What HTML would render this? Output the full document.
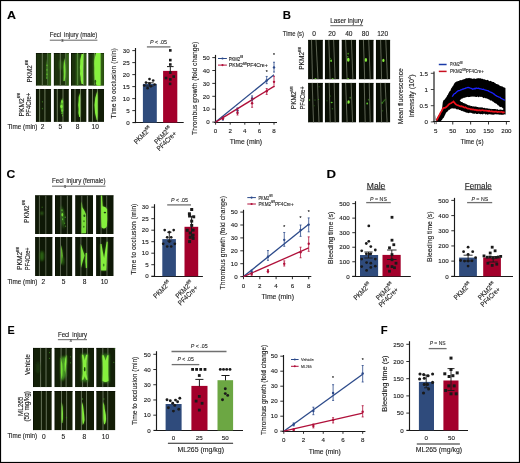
<!DOCTYPE html>
<html><head><meta charset="utf-8"><title>Figure</title>
<style>html,body{margin:0;padding:0;background:#fff;}body{width:520px;height:463px;overflow:hidden;font-family:"Liberation Sans",sans-serif;}svg{display:block;font-family:"Liberation Sans",sans-serif;}svg{will-change:transform;}text{stroke:#1a1a1a;stroke-width:0.12px;}</style>
</head><body>
<svg width="520" height="463" viewBox="0 0 520 463" ><defs><filter id="bl3" filterUnits="userSpaceOnUse" x="0" y="0" width="520" height="463"><feGaussianBlur stdDeviation="0.3"/></filter><filter id="bl5" filterUnits="userSpaceOnUse" x="0" y="0" width="520" height="463"><feGaussianBlur stdDeviation="0.45"/></filter><filter id="bl8" filterUnits="userSpaceOnUse" x="0" y="0" width="520" height="463"><feGaussianBlur stdDeviation="0.8"/></filter><filter id="bl12" filterUnits="userSpaceOnUse" x="0" y="0" width="520" height="463"><feGaussianBlur stdDeviation="1.3"/></filter><clipPath id="c1"><rect x="35.80" y="52.90" width="15.40" height="32.90"/></clipPath><clipPath id="c2"><rect x="53.70" y="52.90" width="15.20" height="32.90"/></clipPath><clipPath id="c3"><rect x="71.00" y="52.90" width="15.60" height="32.90"/></clipPath><clipPath id="c4"><rect x="88.30" y="52.90" width="15.80" height="32.90"/></clipPath><clipPath id="c5"><rect x="35.80" y="89.00" width="15.40" height="32.90"/></clipPath><clipPath id="c6"><rect x="53.70" y="89.00" width="15.20" height="32.90"/></clipPath><clipPath id="c7"><rect x="71.00" y="89.00" width="15.60" height="32.90"/></clipPath><clipPath id="c8"><rect x="88.30" y="89.00" width="15.80" height="32.90"/></clipPath><clipPath id="c9"><rect x="308.10" y="39.70" width="14.80" height="39.75"/></clipPath><clipPath id="c10"><rect x="324.80" y="39.70" width="14.60" height="39.75"/></clipPath><clipPath id="c11"><rect x="341.60" y="39.70" width="14.60" height="39.75"/></clipPath><clipPath id="c12"><rect x="358.80" y="39.70" width="14.90" height="39.75"/></clipPath><clipPath id="c13"><rect x="375.80" y="39.70" width="14.50" height="39.75"/></clipPath><clipPath id="c14"><rect x="308.10" y="82.80" width="14.80" height="39.75"/></clipPath><clipPath id="c15"><rect x="324.80" y="82.80" width="14.60" height="39.75"/></clipPath><clipPath id="c16"><rect x="341.60" y="82.80" width="14.60" height="39.75"/></clipPath><clipPath id="c17"><rect x="358.80" y="82.80" width="14.90" height="39.75"/></clipPath><clipPath id="c18"><rect x="375.80" y="82.80" width="14.50" height="39.75"/></clipPath><clipPath id="c19"><rect x="35.10" y="195.20" width="17.50" height="38.90"/></clipPath><clipPath id="c20"><rect x="55.00" y="195.20" width="17.40" height="38.90"/></clipPath><clipPath id="c21"><rect x="75.20" y="195.20" width="17.80" height="38.90"/></clipPath><clipPath id="c22"><rect x="96.10" y="195.20" width="17.60" height="38.90"/></clipPath><clipPath id="c23"><rect x="35.10" y="237.10" width="17.50" height="38.90"/></clipPath><clipPath id="c24"><rect x="55.00" y="237.10" width="17.40" height="38.90"/></clipPath><clipPath id="c25"><rect x="75.20" y="237.10" width="17.80" height="38.90"/></clipPath><clipPath id="c26"><rect x="96.10" y="237.10" width="17.60" height="38.90"/></clipPath><clipPath id="c27"><rect x="33.00" y="347.80" width="18.80" height="39.35"/></clipPath><clipPath id="c28"><rect x="54.40" y="347.80" width="18.30" height="39.35"/></clipPath><clipPath id="c29"><rect x="75.10" y="347.80" width="19.00" height="39.35"/></clipPath><clipPath id="c30"><rect x="96.30" y="347.80" width="19.10" height="39.35"/></clipPath><clipPath id="c31"><rect x="33.00" y="391.00" width="18.80" height="39.35"/></clipPath><clipPath id="c32"><rect x="54.40" y="391.00" width="18.30" height="39.35"/></clipPath><clipPath id="c33"><rect x="75.10" y="391.00" width="19.00" height="39.35"/></clipPath><clipPath id="c34"><rect x="96.30" y="391.00" width="19.10" height="39.35"/></clipPath></defs><rect width="520" height="463" fill="#fff"/><rect x="0.5" y="0.5" width="519" height="462" fill="none" stroke="#000" stroke-width="1.2"/>
<text x="6.90" y="19.30" font-size="11.6" font-weight="bold" fill="#000" textLength="9.00" lengthAdjust="spacingAndGlyphs">A</text>
<text x="282.80" y="18.90" font-size="11.6" font-weight="bold" fill="#000" textLength="8.20" lengthAdjust="spacingAndGlyphs">B</text>
<text x="6.50" y="178.10" font-size="11.6" font-weight="bold" fill="#000" textLength="8.80" lengthAdjust="spacingAndGlyphs">C</text>
<text x="326.40" y="178.00" font-size="11.6" font-weight="bold" fill="#000" textLength="9.50" lengthAdjust="spacingAndGlyphs">D</text>
<text x="7.40" y="333.90" font-size="11.6" font-weight="bold" fill="#000" textLength="7.20" lengthAdjust="spacingAndGlyphs">E</text>
<text x="380.70" y="333.80" font-size="11.6" font-weight="bold" fill="#000" textLength="6.90" lengthAdjust="spacingAndGlyphs">F</text>
<g clip-path="url(#c1)">
<rect x="35.80" y="52.90" width="15.40" height="32.90" fill="#1c310d"/>
<rect x="35.80" y="52.90" width="0.80" height="32.90" fill="#050a02" opacity="0.6"/>
<rect x="35.80" y="52.90" width="15.40" height="1.00" fill="#0a1204" opacity="0.85"/>
<polygon points="41.80,52.90 42.80,52.90 42.80,85.80 41.80,85.80" fill="#6c7a5c" opacity="1.0"/>
<polygon points="47.20,52.90 48.20,52.90 48.20,85.80 47.20,85.80" fill="#58704a" opacity="1.0"/>
<rect transform="translate(35.80,52.90)" x="12.5" y="0" width="3" height="33" fill="#3f7e1e" opacity="0.8" filter="url(#bl8)"/>
<path transform="translate(35.80,52.90)" d="M10.9 5 Q11.8 14 11.6 26 L10.6 26 Q10.4 14 10.9 5 Z" fill="#4a9a26" opacity="0.45" filter="url(#bl12)"/><path transform="translate(35.80,52.90)" d="M10.9 5 Q11.8 14 11.6 26 L10.6 26 Q10.4 14 10.9 5 Z" fill="#4a9a26" opacity="0.8" filter="url(#bl5)"/>
<ellipse transform="translate(35.80,52.90)" cx="11.2" cy="12.5" rx="0.5" ry="0.8" fill="#6ad030" opacity="1.0" filter="url(#bl5)"/>
<ellipse transform="translate(35.80,52.90)" cx="11.2" cy="17" rx="0.5" ry="0.8" fill="#6ad030" opacity="1.0" filter="url(#bl5)"/>
<ellipse transform="translate(35.80,52.90)" cx="11.2" cy="21.5" rx="0.5" ry="0.8" fill="#6ad030" opacity="1.0" filter="url(#bl5)"/>
<ellipse transform="translate(35.80,52.90)" cx="11.0" cy="25" rx="0.5" ry="0.7" fill="#5ac02c" opacity="1.0" filter="url(#bl5)"/>
</g>
<g clip-path="url(#c2)">
<rect x="53.70" y="52.90" width="15.20" height="32.90" fill="#1c310d"/>
<rect x="53.70" y="52.90" width="0.80" height="32.90" fill="#050a02" opacity="0.6"/>
<rect x="53.70" y="52.90" width="15.20" height="1.00" fill="#0a1204" opacity="0.85"/>
<polygon points="59.80,52.90 60.80,52.90 60.80,85.80 59.80,85.80" fill="#6c7a5c" opacity="1.0"/>
<polygon points="65.30,52.90 66.30,52.90 66.30,85.80 65.30,85.80" fill="#6c7a5c" opacity="1.0"/>
<rect transform="translate(53.70,52.90)" x="12.6" y="0" width="3" height="33" fill="#3f7e1e" opacity="0.8" filter="url(#bl8)"/>
<ellipse transform="translate(53.70,52.90)" cx="6.8" cy="12" rx="0.8" ry="5" fill="#4a9a26" opacity="0.8" filter="url(#bl8)"/>
<path transform="translate(53.70,52.90)" d="M10.6 5 Q11.8 12 11.8 18 Q11.8 24 11.0 28 L9.8 28 Q10.2 20 9.8 14 Q10 9 10.6 5 Z" fill="#76e036" opacity="0.45" filter="url(#bl12)"/><path transform="translate(53.70,52.90)" d="M10.6 5 Q11.8 12 11.8 18 Q11.8 24 11.0 28 L9.8 28 Q10.2 20 9.8 14 Q10 9 10.6 5 Z" fill="#76e036" opacity="1.0" filter="url(#bl5)"/>
</g>
<g clip-path="url(#c3)">
<rect x="71.00" y="52.90" width="15.60" height="32.90" fill="#1c310d"/>
<rect x="71.00" y="52.90" width="0.80" height="32.90" fill="#050a02" opacity="0.6"/>
<rect x="71.00" y="52.90" width="15.60" height="1.00" fill="#0a1204" opacity="0.85"/>
<polygon points="77.00,52.90 78.00,52.90 78.00,85.80 77.00,85.80" fill="#6c7a5c" opacity="1.0"/>
<polygon points="83.10,52.90 84.10,52.90 84.10,85.80 83.10,85.80" fill="#6c7a5c" opacity="1.0"/>
<rect transform="translate(71.00,52.90)" x="13.2" y="0" width="2.5" height="33" fill="#3f7e1e" opacity="0.7" filter="url(#bl8)"/>
<rect transform="translate(71.00,52.90)" x="5.6" y="0" width="2.0" height="33" fill="#3e8a20" opacity="0.9" filter="url(#bl8)"/>
<path transform="translate(71.00,52.90)" d="M10.6 1 L12.4 1 Q12.2 10 12.0 18 Q12.0 26 12.2 31 L10.6 31 Q9.4 27 9.6 24 Q8.6 21 9.2 18 Q8.6 14 9.2 11 Q8.8 7 10.6 1 Z" fill="#84f03c" opacity="0.45" filter="url(#bl12)"/><path transform="translate(71.00,52.90)" d="M10.6 1 L12.4 1 Q12.2 10 12.0 18 Q12.0 26 12.2 31 L10.6 31 Q9.4 27 9.6 24 Q8.6 21 9.2 18 Q8.6 14 9.2 11 Q8.8 7 10.6 1 Z" fill="#84f03c" opacity="1.0" filter="url(#bl5)"/>
</g>
<g clip-path="url(#c4)">
<rect x="88.30" y="52.90" width="15.80" height="32.90" fill="#1c310d"/>
<rect x="88.30" y="52.90" width="0.80" height="32.90" fill="#050a02" opacity="0.6"/>
<rect x="88.30" y="52.90" width="15.80" height="1.00" fill="#0a1204" opacity="0.85"/>
<polygon points="94.00,52.90 95.00,52.90 95.00,85.80 94.00,85.80" fill="#6c7a5c" opacity="1.0"/>
<polygon points="99.60,52.90 100.60,52.90 100.60,85.80 99.60,85.80" fill="#6c7a5c" opacity="1.0"/>
<rect transform="translate(88.30,52.90)" x="12.6" y="0" width="3" height="33" fill="#3f7e1e" opacity="0.6" filter="url(#bl8)"/>
<rect transform="translate(88.30,52.90)" x="5.0" y="0" width="2" height="33" fill="#3a7a1c" opacity="0.7" filter="url(#bl8)"/>
<path transform="translate(88.30,52.90)" d="M7.7 0 L12.2 0 L12.2 33 L8.6 33 Q7.6 31 7.2 29 Q6.2 27 6.4 24 Q6.0 20 6.2 15 Q5.8 11 6.0 8 Q6.6 4 7.7 0 Z" fill="#86f23c" opacity="0.45" filter="url(#bl12)"/><path transform="translate(88.30,52.90)" d="M7.7 0 L12.2 0 L12.2 33 L8.6 33 Q7.6 31 7.2 29 Q6.2 27 6.4 24 Q6.0 20 6.2 15 Q5.8 11 6.0 8 Q6.6 4 7.7 0 Z" fill="#86f23c" opacity="1.0" filter="url(#bl5)"/>
<ellipse transform="translate(88.30,52.90)" cx="7.0" cy="28.5" rx="0.9" ry="1.6" fill="#2a5a14" opacity="1.0" filter="url(#bl5)"/>
</g>
<g clip-path="url(#c5)">
<rect x="35.80" y="89.00" width="15.40" height="32.90" fill="#121d07"/>
<rect x="35.80" y="89.00" width="0.80" height="32.90" fill="#050a02" opacity="0.6"/>
<rect x="35.80" y="89.00" width="15.40" height="1.00" fill="#070c03" opacity="0.85"/>
<polygon points="39.10,89.00 40.10,89.00 40.10,121.90 39.10,121.90" fill="#6c7a5c" opacity="1.0"/>
<polygon points="44.40,89.00 45.40,89.00 45.40,121.90 44.40,121.90" fill="#6c7a5c" opacity="1.0"/>
<ellipse transform="translate(35.80,89.00)" cx="6.6" cy="12.8" rx="0.6" ry="0.6" fill="#4a9a26" opacity="0.8" filter="url(#bl5)"/>
<ellipse transform="translate(35.80,89.00)" cx="6.6" cy="19.6" rx="0.6" ry="0.8" fill="#3e8a20" opacity="0.7" filter="url(#bl5)"/>
</g>
<g clip-path="url(#c6)">
<rect x="53.70" y="89.00" width="15.20" height="32.90" fill="#121d07"/>
<rect x="53.70" y="89.00" width="0.80" height="32.90" fill="#050a02" opacity="0.6"/>
<rect x="53.70" y="89.00" width="15.20" height="1.00" fill="#070c03" opacity="0.85"/>
<polygon points="56.80,89.00 57.80,89.00 57.80,121.90 56.80,121.90" fill="#6c7a5c" opacity="1.0"/>
<polygon points="62.50,89.00 63.50,89.00 63.50,121.90 62.50,121.90" fill="#6c7a5c" opacity="1.0"/>
<path transform="translate(53.70,89.00)" d="M8.6 9 Q9.8 13 9.6 17 Q9.8 21 8.8 26 Q7 22 6.6 17 Q7 12 8.6 9 Z" fill="#5ab82c" opacity="0.45" filter="url(#bl12)"/><path transform="translate(53.70,89.00)" d="M8.6 9 Q9.8 13 9.6 17 Q9.8 21 8.8 26 Q7 22 6.6 17 Q7 12 8.6 9 Z" fill="#5ab82c" opacity="0.9" filter="url(#bl5)"/>
<ellipse transform="translate(53.70,89.00)" cx="8.4" cy="12.5" rx="1.0" ry="1.6" fill="#76e036" opacity="1.0" filter="url(#bl5)"/>
<ellipse transform="translate(53.70,89.00)" cx="7.8" cy="17.5" rx="1.2" ry="1.8" fill="#80ec3a" opacity="1.0" filter="url(#bl5)"/>
<ellipse transform="translate(53.70,89.00)" cx="8.6" cy="21.5" rx="0.9" ry="1.2" fill="#6ad030" opacity="1.0" filter="url(#bl5)"/>
<ellipse transform="translate(53.70,89.00)" cx="8.2" cy="24.5" rx="0.6" ry="0.8" fill="#5ac02c" opacity="1.0" filter="url(#bl5)"/>
<ellipse transform="translate(53.70,89.00)" cx="8.8" cy="26.7" rx="0.5" ry="0.8" fill="#5ac02c" opacity="1.0" filter="url(#bl5)"/>
</g>
<g clip-path="url(#c7)">
<rect x="71.00" y="89.00" width="15.60" height="32.90" fill="#121d07"/>
<rect x="71.00" y="89.00" width="0.80" height="32.90" fill="#050a02" opacity="0.6"/>
<rect x="71.00" y="89.00" width="15.60" height="1.00" fill="#070c03" opacity="0.85"/>
<polygon points="74.50,89.00 75.50,89.00 75.50,121.90 74.50,121.90" fill="#6c7a5c" opacity="1.0"/>
<polygon points="80.00,89.00 81.00,89.00 81.00,121.90 80.00,121.90" fill="#6c7a5c" opacity="1.0"/>
<path transform="translate(71.00,89.00)" d="M8.6 4 Q9.4 10 9.0 16 Q9.2 22 9.0 28 L8.2 28 Q7.0 24 7.6 20 Q6.8 16 7.6 12 Q7.4 8 8.6 4 Z" fill="#80ec3a" opacity="0.45" filter="url(#bl12)"/><path transform="translate(71.00,89.00)" d="M8.6 4 Q9.4 10 9.0 16 Q9.2 22 9.0 28 L8.2 28 Q7.0 24 7.6 20 Q6.8 16 7.6 12 Q7.4 8 8.6 4 Z" fill="#80ec3a" opacity="1.0" filter="url(#bl5)"/>
</g>
<g clip-path="url(#c8)">
<rect x="88.30" y="89.00" width="15.80" height="32.90" fill="#121d07"/>
<rect x="88.30" y="89.00" width="0.80" height="32.90" fill="#050a02" opacity="0.6"/>
<rect x="88.30" y="89.00" width="15.80" height="1.00" fill="#070c03" opacity="0.85"/>
<polygon points="92.00,89.00 93.00,89.00 93.00,121.90 92.00,121.90" fill="#6c7a5c" opacity="1.0"/>
<polygon points="96.90,89.00 97.90,89.00 97.90,121.90 96.90,121.90" fill="#6c7a5c" opacity="1.0"/>
<path transform="translate(88.30,89.00)" d="M9.0 2 Q9.4 10 9.2 16 Q9.4 24 9.0 31 L8.4 31 Q6.2 24 6.2 16 Q6.6 8 9.0 2 Z" fill="#86f03c" opacity="0.45" filter="url(#bl12)"/><path transform="translate(88.30,89.00)" d="M9.0 2 Q9.4 10 9.2 16 Q9.4 24 9.0 31 L8.4 31 Q6.2 24 6.2 16 Q6.6 8 9.0 2 Z" fill="#86f03c" opacity="1.0" filter="url(#bl5)"/>
</g>
<g clip-path="url(#c9)">
<rect x="308.10" y="39.70" width="14.80" height="39.75" fill="#090e04"/>
<rect x="308.10" y="39.70" width="0.80" height="39.75" fill="#050a02" opacity="0.6"/>
<rect x="308.10" y="39.70" width="14.80" height="1.00" fill="#0a1204" opacity="0.85"/>
<polygon points="311.00,39.70 312.00,39.70 313.00,79.45 312.00,79.45" fill="#5e6454" opacity="1.0"/>
<polygon points="315.50,39.70 316.50,39.70 318.50,79.45 317.50,79.45" fill="#5e6454" opacity="1.0"/>
<ellipse transform="translate(308.10,39.70)" cx="7.4" cy="39" rx="1.0" ry="0.6" fill="#5ab02c" opacity="1.0" filter="url(#bl5)"/>
</g>
<g clip-path="url(#c10)">
<rect x="324.80" y="39.70" width="14.60" height="39.75" fill="#090e04"/>
<rect x="324.80" y="39.70" width="0.80" height="39.75" fill="#050a02" opacity="0.6"/>
<rect x="324.80" y="39.70" width="14.60" height="1.00" fill="#0a1204" opacity="0.85"/>
<polygon points="328.30,39.70 329.30,39.70 330.60,79.45 329.60,79.45" fill="#5e6454" opacity="1.0"/>
<polygon points="333.10,39.70 334.10,39.70 335.60,79.45 334.60,79.45" fill="#5e6454" opacity="1.0"/>
<ellipse transform="translate(324.80,39.70)" cx="6.3" cy="21" rx="0.9" ry="1.2" fill="#6ad030" opacity="1.0" filter="url(#bl5)"/>
<ellipse transform="translate(324.80,39.70)" cx="5.8" cy="18.6" rx="0.4" ry="0.6" fill="#3a8a20" opacity="1.0" filter="url(#bl5)"/>
<ellipse transform="translate(324.80,39.70)" cx="7.8" cy="39" rx="1" ry="0.6" fill="#5ab02c" opacity="1.0" filter="url(#bl5)"/>
</g>
<g clip-path="url(#c11)">
<rect x="341.60" y="39.70" width="14.60" height="39.75" fill="#090e04"/>
<rect x="341.60" y="39.70" width="0.80" height="39.75" fill="#050a02" opacity="0.6"/>
<rect x="341.60" y="39.70" width="14.60" height="1.00" fill="#0a1204" opacity="0.85"/>
<polygon points="345.10,39.70 346.10,39.70 347.60,79.45 346.60,79.45" fill="#5e6454" opacity="1.0"/>
<polygon points="350.90,39.70 351.90,39.70 353.40,79.45 352.40,79.45" fill="#5e6454" opacity="1.0"/>
<ellipse transform="translate(341.60,39.70)" cx="6.7" cy="20.0" rx="1.3" ry="2.0" fill="#84f03a" opacity="1.0" filter="url(#bl5)"/>
<ellipse transform="translate(341.60,39.70)" cx="6.5" cy="14" rx="0.6" ry="0.9" fill="#5ac02c" opacity="1.0" filter="url(#bl5)"/>
<ellipse transform="translate(341.60,39.70)" cx="6.2" cy="17" rx="0.5" ry="0.7" fill="#5ac02c" opacity="1.0" filter="url(#bl5)"/>
<ellipse transform="translate(341.60,39.70)" cx="6.5" cy="39" rx="1" ry="0.6" fill="#5ab02c" opacity="1.0" filter="url(#bl5)"/>
</g>
<g clip-path="url(#c12)">
<rect x="358.80" y="39.70" width="14.90" height="39.75" fill="#090e04"/>
<rect x="358.80" y="39.70" width="0.80" height="39.75" fill="#050a02" opacity="0.6"/>
<rect x="358.80" y="39.70" width="14.90" height="1.00" fill="#0a1204" opacity="0.85"/>
<polygon points="362.90,39.70 363.90,39.70 365.20,79.45 364.20,79.45" fill="#5e6454" opacity="1.0"/>
<polygon points="368.20,39.70 369.20,39.70 370.70,79.45 369.70,79.45" fill="#5e6454" opacity="1.0"/>
<ellipse transform="translate(358.80,39.70)" cx="7.1" cy="20.2" rx="1.2" ry="1.9" fill="#86f03a" opacity="1.0" filter="url(#bl5)"/>
</g>
<g clip-path="url(#c13)">
<rect x="375.80" y="39.70" width="14.50" height="39.75" fill="#090e04"/>
<rect x="375.80" y="39.70" width="0.80" height="39.75" fill="#050a02" opacity="0.6"/>
<rect x="375.80" y="39.70" width="14.50" height="1.00" fill="#0a1204" opacity="0.85"/>
<polygon points="380.10,39.70 381.10,39.70 382.10,79.45 381.10,79.45" fill="#5e6454" opacity="1.0"/>
<polygon points="385.30,39.70 386.30,39.70 387.90,79.45 386.90,79.45" fill="#5e6454" opacity="1.0"/>
<ellipse transform="translate(375.80,39.70)" cx="7.6" cy="20.7" rx="1.1" ry="1.6" fill="#86f03a" opacity="1.0" filter="url(#bl5)"/>
</g>
<g clip-path="url(#c14)">
<rect x="308.10" y="82.80" width="14.80" height="39.75" fill="#090e04"/>
<rect x="308.10" y="82.80" width="0.80" height="39.75" fill="#050a02" opacity="0.6"/>
<rect x="308.10" y="82.80" width="14.80" height="1.00" fill="#0a1204" opacity="0.85"/>
<polygon points="311.70,82.80 312.70,82.80 314.00,122.55 313.00,122.55" fill="#5e6454" opacity="1.0"/>
<polygon points="317.00,82.80 318.00,82.80 319.50,122.55 318.50,122.55" fill="#5e6454" opacity="1.0"/>
<ellipse transform="translate(308.10,82.80)" cx="1.4" cy="17.2" rx="0.7" ry="1.0" fill="#4aa028" opacity="1.0" filter="url(#bl5)"/>
<ellipse transform="translate(308.10,82.80)" cx="6.9" cy="17.2" rx="0.5" ry="0.6" fill="#3a8a20" opacity="1.0" filter="url(#bl5)"/>
<ellipse transform="translate(308.10,82.80)" cx="10.4" cy="16.7" rx="0.5" ry="0.6" fill="#4aa028" opacity="1.0" filter="url(#bl5)"/>
<ellipse transform="translate(308.10,82.80)" cx="6" cy="23" rx="0.4" ry="0.5" fill="#3a8a20" opacity="1.0" filter="url(#bl5)"/>
<ellipse transform="translate(308.10,82.80)" cx="11" cy="4" rx="0.4" ry="0.5" fill="#3a8a20" opacity="1.0" filter="url(#bl5)"/>
</g>
<g clip-path="url(#c15)">
<rect x="324.80" y="82.80" width="14.60" height="39.75" fill="#090e04"/>
<rect x="324.80" y="82.80" width="0.80" height="39.75" fill="#050a02" opacity="0.6"/>
<rect x="324.80" y="82.80" width="14.60" height="1.00" fill="#0a1204" opacity="0.85"/>
<polygon points="328.70,82.80 329.70,82.80 330.70,122.55 329.70,122.55" fill="#5e6454" opacity="1.0"/>
<polygon points="333.70,82.80 334.70,82.80 335.70,122.55 334.70,122.55" fill="#5e6454" opacity="1.0"/>
<ellipse transform="translate(324.80,82.80)" cx="6.9" cy="19.7" rx="1.0" ry="0.7" fill="#5ac02c" opacity="1.0" filter="url(#bl5)"/>
<ellipse transform="translate(324.80,82.80)" cx="5.4" cy="13.2" rx="0.5" ry="0.6" fill="#3a8a20" opacity="1.0" filter="url(#bl5)"/>
<ellipse transform="translate(324.80,82.80)" cx="2.2" cy="18" rx="0.4" ry="0.5" fill="#3a8a20" opacity="1.0" filter="url(#bl5)"/>
<ellipse transform="translate(324.80,82.80)" cx="7.5" cy="26" rx="0.5" ry="0.8" fill="#2e7a18" opacity="1.0" filter="url(#bl5)"/>
</g>
<g clip-path="url(#c16)">
<rect x="341.60" y="82.80" width="14.60" height="39.75" fill="#090e04"/>
<rect x="341.60" y="82.80" width="0.80" height="39.75" fill="#050a02" opacity="0.6"/>
<rect x="341.60" y="82.80" width="14.60" height="1.00" fill="#0a1204" opacity="0.85"/>
<polygon points="345.10,82.80 346.10,82.80 347.60,122.55 346.60,122.55" fill="#5e6454" opacity="1.0"/>
<polygon points="350.60,82.80 351.60,82.80 353.10,122.55 352.10,122.55" fill="#5e6454" opacity="1.0"/>
<ellipse transform="translate(341.60,82.80)" cx="7.0" cy="19.2" rx="1.2" ry="1.7" fill="#86f03a" opacity="1.0" filter="url(#bl5)"/>
<ellipse transform="translate(341.60,82.80)" cx="8.5" cy="15" rx="0.5" ry="1.0" fill="#4aa028" opacity="1.0" filter="url(#bl5)"/>
<ellipse transform="translate(341.60,82.80)" cx="5.3" cy="20.5" rx="0.5" ry="0.7" fill="#4aa028" opacity="1.0" filter="url(#bl5)"/>
</g>
<g clip-path="url(#c17)">
<rect x="358.80" y="82.80" width="14.90" height="39.75" fill="#090e04"/>
<rect x="358.80" y="82.80" width="0.80" height="39.75" fill="#050a02" opacity="0.6"/>
<rect x="358.80" y="82.80" width="14.90" height="1.00" fill="#0a1204" opacity="0.85"/>
<polygon points="363.70,82.80 364.70,82.80 365.70,122.55 364.70,122.55" fill="#5e6454" opacity="1.0"/>
<polygon points="368.70,82.80 369.70,82.80 370.70,122.55 369.70,122.55" fill="#5e6454" opacity="1.0"/>
<ellipse transform="translate(358.80,82.80)" cx="8.4" cy="20.7" rx="0.9" ry="0.9" fill="#5ac02c" opacity="1.0" filter="url(#bl5)"/>
<ellipse transform="translate(358.80,82.80)" cx="9.5" cy="17" rx="0.4" ry="1.0" fill="#3a8a20" opacity="1.0" filter="url(#bl5)"/>
</g>
<g clip-path="url(#c18)">
<rect x="375.80" y="82.80" width="14.50" height="39.75" fill="#090e04"/>
<rect x="375.80" y="82.80" width="0.80" height="39.75" fill="#050a02" opacity="0.6"/>
<rect x="375.80" y="82.80" width="14.50" height="1.00" fill="#0a1204" opacity="0.85"/>
<polygon points="380.10,82.80 381.10,82.80 382.10,122.55 381.10,122.55" fill="#5e6454" opacity="1.0"/>
<polygon points="384.60,82.80 385.60,82.80 387.60,122.55 386.60,122.55" fill="#5e6454" opacity="1.0"/>
<ellipse transform="translate(375.80,82.80)" cx="6.3" cy="20.2" rx="0.7" ry="0.8" fill="#4aa028" opacity="1.0" filter="url(#bl5)"/>
<path transform="translate(375.80,82.80)" d="M6 20 L9.5 16 L9.8 16.6 L6.4 20.8 Z" fill="#3a8a20" opacity="0.45" filter="url(#bl12)"/><path transform="translate(375.80,82.80)" d="M6 20 L9.5 16 L9.8 16.6 L6.4 20.8 Z" fill="#3a8a20" opacity="0.8" filter="url(#bl5)"/>
<ellipse transform="translate(375.80,82.80)" cx="7" cy="28" rx="0.4" ry="0.6" fill="#3a8a20" opacity="1.0" filter="url(#bl5)"/>
</g>
<g clip-path="url(#c19)">
<rect x="35.10" y="195.20" width="17.50" height="38.90" fill="#0e1806"/>
<rect x="35.10" y="195.20" width="0.80" height="38.90" fill="#050a02" opacity="0.6"/>
<rect x="35.10" y="195.20" width="17.50" height="1.00" fill="#0a1204" opacity="0.85"/>
<polygon points="38.90,195.20 39.90,195.20 39.90,234.10 38.90,234.10" fill="#58624e" opacity="1.0"/>
<polygon points="45.30,195.20 46.30,195.20 46.30,234.10 45.30,234.10" fill="#58624e" opacity="1.0"/>
<ellipse transform="translate(35.10,195.20)" cx="6.7" cy="18" rx="1.0" ry="1.3" fill="#4aa028" opacity="1.0" filter="url(#bl8)"/>
<ellipse transform="translate(35.10,195.20)" cx="7" cy="12" rx="0.5" ry="0.8" fill="#2e6a16" opacity="1.0" filter="url(#bl5)"/>
</g>
<g clip-path="url(#c20)">
<rect x="55.00" y="195.20" width="17.40" height="38.90" fill="#0e1806"/>
<rect x="55.00" y="195.20" width="0.80" height="38.90" fill="#050a02" opacity="0.6"/>
<rect x="55.00" y="195.20" width="17.40" height="1.00" fill="#0a1204" opacity="0.85"/>
<polygon points="60.40,195.20 61.40,195.20 61.40,234.10 60.40,234.10" fill="#58624e" opacity="1.0"/>
<polygon points="66.90,195.20 67.90,195.20 67.90,234.10 66.90,234.10" fill="#58624e" opacity="1.0"/>
<path transform="translate(55.00,195.20)" d="M6.2 10 Q8.8 15 9.4 21 Q9.6 28 8.6 34 Q6.6 28 6.2 20 Z" fill="#3e8a20" opacity="0.9" filter="url(#bl8)"/>
<ellipse transform="translate(55.00,195.20)" cx="7.3" cy="19.5" rx="0.9" ry="1.8" fill="#76e036" opacity="1.0" filter="url(#bl5)"/>
<ellipse transform="translate(55.00,195.20)" cx="7.0" cy="15" rx="0.6" ry="0.9" fill="#5ac030" opacity="1.0" filter="url(#bl5)"/>
<ellipse transform="translate(55.00,195.20)" cx="7.6" cy="24" rx="0.6" ry="1.0" fill="#5ac030" opacity="1.0" filter="url(#bl5)"/>
<ellipse transform="translate(55.00,195.20)" cx="10.2" cy="22" rx="0.6" ry="0.8" fill="#4aa028" opacity="1.0" filter="url(#bl5)"/>
<ellipse transform="translate(55.00,195.20)" cx="9.6" cy="28" rx="0.6" ry="0.8" fill="#3e8a20" opacity="1.0" filter="url(#bl5)"/>
<ellipse transform="translate(55.00,195.20)" cx="10.6" cy="31" rx="0.5" ry="0.7" fill="#3e8a20" opacity="1.0" filter="url(#bl5)"/>
</g>
<g clip-path="url(#c21)">
<rect x="75.20" y="195.20" width="17.80" height="38.90" fill="#0e1806"/>
<rect x="75.20" y="195.20" width="0.80" height="38.90" fill="#050a02" opacity="0.6"/>
<rect x="75.20" y="195.20" width="17.80" height="1.00" fill="#0a1204" opacity="0.85"/>
<polygon points="81.30,195.20 82.30,195.20 82.30,234.10 81.30,234.10" fill="#58624e" opacity="1.0"/>
<polygon points="86.90,195.20 87.90,195.20 87.90,234.10 86.90,234.10" fill="#58624e" opacity="1.0"/>
<path transform="translate(75.20,195.20)" d="M6.4 6 Q7.0 9 7.2 12 Q9.2 15 10.8 19 Q11.2 26 10.8 38 L6.2 38 Q6.6 30 6.2 20 Z" fill="#7ae03a" opacity="0.45" filter="url(#bl12)"/><path transform="translate(75.20,195.20)" d="M6.4 6 Q7.0 9 7.2 12 Q9.2 15 10.8 19 Q11.2 26 10.8 38 L6.2 38 Q6.6 30 6.2 20 Z" fill="#7ae03a" opacity="1.0" filter="url(#bl5)"/>
<ellipse transform="translate(75.20,195.20)" cx="9.2" cy="20.5" rx="1.0" ry="1.3" fill="#2a5a14" opacity="1.0" filter="url(#bl5)"/>
<ellipse transform="translate(75.20,195.20)" cx="8.8" cy="26" rx="0.8" ry="1.0" fill="#3a7a1c" opacity="1.0" filter="url(#bl5)"/>
<ellipse transform="translate(75.20,195.20)" cx="8.6" cy="31.5" rx="0.8" ry="1.0" fill="#3a7a1c" opacity="1.0" filter="url(#bl5)"/>
</g>
<g clip-path="url(#c22)">
<rect x="96.10" y="195.20" width="17.60" height="38.90" fill="#0e1806"/>
<rect x="96.10" y="195.20" width="0.80" height="38.90" fill="#050a02" opacity="0.6"/>
<rect x="96.10" y="195.20" width="17.60" height="1.00" fill="#0a1204" opacity="0.85"/>
<polygon points="100.60,195.20 101.60,195.20 101.60,234.10 100.60,234.10" fill="#58624e" opacity="1.0"/>
<polygon points="106.20,195.20 107.20,195.20 107.20,234.10 106.20,234.10" fill="#58624e" opacity="1.0"/>
<path transform="translate(96.10,195.20)" d="M5.0 0 L6.0 0 Q6.2 6 6.6 11 Q10 11.5 11 14 Q11.4 24 10.8 31 Q8.4 35 5.4 32 Q4.8 22 5.0 11 Z" fill="#86f03c" opacity="0.45" filter="url(#bl12)"/><path transform="translate(96.10,195.20)" d="M5.0 0 L6.0 0 Q6.2 6 6.6 11 Q10 11.5 11 14 Q11.4 24 10.8 31 Q8.4 35 5.4 32 Q4.8 22 5.0 11 Z" fill="#86f03c" opacity="1.0" filter="url(#bl5)"/>
<ellipse transform="translate(96.10,195.20)" cx="8.8" cy="17.4" rx="1.2" ry="0.8" fill="#1a3a0c" opacity="1.0" filter="url(#bl5)"/>
</g>
<g clip-path="url(#c23)">
<rect x="35.10" y="237.10" width="17.50" height="38.90" fill="#0e1806"/>
<rect x="35.10" y="237.10" width="0.80" height="38.90" fill="#050a02" opacity="0.6"/>
<rect x="35.10" y="237.10" width="17.50" height="1.00" fill="#0a1204" opacity="0.85"/>
<polygon points="38.90,237.10 39.90,237.10 39.90,276.00 38.90,276.00" fill="#58624e" opacity="1.0"/>
<polygon points="45.30,237.10 46.30,237.10 46.30,276.00 45.30,276.00" fill="#58624e" opacity="1.0"/>
<ellipse transform="translate(35.10,237.10)" cx="6.8" cy="19" rx="2.2" ry="5" fill="#2e6a14" opacity="0.9" filter="url(#bl12)"/>
</g>
<g clip-path="url(#c24)">
<rect x="55.00" y="237.10" width="17.40" height="38.90" fill="#0e1806"/>
<rect x="55.00" y="237.10" width="0.80" height="38.90" fill="#050a02" opacity="0.6"/>
<rect x="55.00" y="237.10" width="17.40" height="1.00" fill="#0a1204" opacity="0.85"/>
<polygon points="60.00,237.10 61.00,237.10 61.00,276.00 60.00,276.00" fill="#58624e" opacity="1.0"/>
<polygon points="66.30,237.10 67.30,237.10 67.30,276.00 66.30,276.00" fill="#58624e" opacity="1.0"/>
<path transform="translate(55.00,237.10)" d="M6.2 8 Q7.8 14 7.6 20 Q7.4 24 6.4 28 Z" fill="#7ae03a" opacity="0.45" filter="url(#bl12)"/><path transform="translate(55.00,237.10)" d="M6.2 8 Q7.8 14 7.6 20 Q7.4 24 6.4 28 Z" fill="#7ae03a" opacity="1.0" filter="url(#bl5)"/>
<ellipse transform="translate(55.00,237.10)" cx="7.8" cy="24" rx="1.2" ry="4" fill="#2e6a14" opacity="0.9" filter="url(#bl8)"/>
</g>
<g clip-path="url(#c25)">
<rect x="75.20" y="237.10" width="17.80" height="38.90" fill="#0e1806"/>
<rect x="75.20" y="237.10" width="0.80" height="38.90" fill="#050a02" opacity="0.6"/>
<rect x="75.20" y="237.10" width="17.80" height="1.00" fill="#0a1204" opacity="0.85"/>
<polygon points="80.40,237.10 81.40,237.10 81.40,276.00 80.40,276.00" fill="#58624e" opacity="1.0"/>
<polygon points="86.30,237.10 87.30,237.10 87.30,276.00 86.30,276.00" fill="#58624e" opacity="1.0"/>
<path transform="translate(75.20,237.10)" d="M5.6 7 Q7.5 13 9.4 18.5 Q7.5 24 5.8 31 Z" fill="#7ae03a" opacity="0.45" filter="url(#bl12)"/><path transform="translate(75.20,237.10)" d="M5.6 7 Q7.5 13 9.4 18.5 Q7.5 24 5.8 31 Z" fill="#7ae03a" opacity="1.0" filter="url(#bl5)"/>
<path transform="translate(75.20,237.10)" d="M10.4 16 L11.8 16 L11.8 31 L10.6 31 Q9.8 24 10.4 16 Z" fill="#7ae03a" opacity="0.45" filter="url(#bl12)"/><path transform="translate(75.20,237.10)" d="M10.4 16 L11.8 16 L11.8 31 L10.6 31 Q9.8 24 10.4 16 Z" fill="#7ae03a" opacity="1.0" filter="url(#bl5)"/>
</g>
<g clip-path="url(#c26)">
<rect x="96.10" y="237.10" width="17.60" height="38.90" fill="#0e1806"/>
<rect x="96.10" y="237.10" width="0.80" height="38.90" fill="#050a02" opacity="0.6"/>
<rect x="96.10" y="237.10" width="17.60" height="1.00" fill="#0a1204" opacity="0.85"/>
<polygon points="100.20,237.10 101.20,237.10 101.20,276.00 100.20,276.00" fill="#58624e" opacity="1.0"/>
<polygon points="106.50,237.10 107.50,237.10 107.50,276.00 106.50,276.00" fill="#58624e" opacity="1.0"/>
<path transform="translate(96.10,237.10)" d="M4.4 7 L5.4 7 Q6.6 15 8.0 21 Q9.0 14 10.6 4.7 L11.6 4.7 Q11.0 16 10.6 24 Q10.4 29 10.2 33.5 L5.0 33.5 Q4.8 28 4.8 22 Q4.4 14 4.4 7 Z" fill="#84ee3c" opacity="0.45" filter="url(#bl12)"/><path transform="translate(96.10,237.10)" d="M4.4 7 L5.4 7 Q6.6 15 8.0 21 Q9.0 14 10.6 4.7 L11.6 4.7 Q11.0 16 10.6 24 Q10.4 29 10.2 33.5 L5.0 33.5 Q4.8 28 4.8 22 Q4.4 14 4.4 7 Z" fill="#84ee3c" opacity="1.0" filter="url(#bl5)"/>
<ellipse transform="translate(96.10,237.10)" cx="7.6" cy="28" rx="0.8" ry="1.5" fill="#3a8a20" opacity="1.0" filter="url(#bl5)"/>
</g>
<g clip-path="url(#c27)">
<rect x="33.00" y="347.80" width="18.80" height="39.35" fill="#132008"/>
<rect x="33.00" y="347.80" width="0.80" height="39.35" fill="#050a02" opacity="0.6"/>
<rect x="33.00" y="347.80" width="18.80" height="1.00" fill="#0a1204" opacity="0.85"/>
<polygon points="40.10,347.80 41.10,347.80 41.10,387.15 40.10,387.15" fill="#66725a" opacity="1.0"/>
<polygon points="45.50,347.80 46.50,347.80 46.50,387.15 45.50,387.15" fill="#66725a" opacity="1.0"/>
<ellipse transform="translate(33.00,347.80)" cx="16.5" cy="4.8" rx="0.5" ry="0.6" fill="#3a8a20" opacity="1.0" filter="url(#bl5)"/>
<ellipse transform="translate(33.00,347.80)" cx="16.4" cy="10.5" rx="0.5" ry="0.6" fill="#3a8a20" opacity="1.0" filter="url(#bl5)"/>
<ellipse transform="translate(33.00,347.80)" cx="5" cy="20" rx="2" ry="6" fill="#1e3a0e" opacity="0.8" filter="url(#bl12)"/>
</g>
<g clip-path="url(#c28)">
<rect x="54.40" y="347.80" width="18.30" height="39.35" fill="#132008"/>
<rect x="54.40" y="347.80" width="0.80" height="39.35" fill="#050a02" opacity="0.6"/>
<rect x="54.40" y="347.80" width="18.30" height="1.00" fill="#0a1204" opacity="0.85"/>
<polygon points="60.60,347.80 61.60,347.80 61.60,387.15 60.60,387.15" fill="#66725a" opacity="1.0"/>
<polygon points="65.60,347.80 66.60,347.80 66.60,387.15 65.60,387.15" fill="#66725a" opacity="1.0"/>
<path transform="translate(54.40,347.80)" d="M6.6 9 Q8.6 8 9.4 10 Q10.8 8 12.2 7.5 L12.2 16 Q11.4 22 11.8 28 Q10 31 8.4 33 Q7 33 6.6 32 Z" fill="#4aa028" opacity="0.85" filter="url(#bl8)"/>
<path transform="translate(54.40,347.80)" d="M6.4 10 Q8.4 16 8.2 22 Q8.2 28 7.2 32 Q6.2 26 6.4 18 Z" fill="#76e036" opacity="0.45" filter="url(#bl12)"/><path transform="translate(54.40,347.80)" d="M6.4 10 Q8.4 16 8.2 22 Q8.2 28 7.2 32 Q6.2 26 6.4 18 Z" fill="#76e036" opacity="1.0" filter="url(#bl5)"/>
<path transform="translate(54.40,347.80)" d="M12.0 7 Q12.2 14 11.4 20 Q10.8 24 11.2 27 Q9.8 22 10.2 16 Q10.8 10 12.0 7 Z" fill="#80ec3a" opacity="0.45" filter="url(#bl12)"/><path transform="translate(54.40,347.80)" d="M12.0 7 Q12.2 14 11.4 20 Q10.8 24 11.2 27 Q9.8 22 10.2 16 Q10.8 10 12.0 7 Z" fill="#80ec3a" opacity="1.0" filter="url(#bl5)"/>
<ellipse transform="translate(54.40,347.80)" cx="16" cy="15" rx="0.5" ry="0.6" fill="#3a8a20" opacity="1.0" filter="url(#bl5)"/>
<ellipse transform="translate(54.40,347.80)" cx="16" cy="9" rx="0.5" ry="0.6" fill="#3a8a20" opacity="1.0" filter="url(#bl5)"/>
</g>
<g clip-path="url(#c29)">
<rect x="75.10" y="347.80" width="19.00" height="39.35" fill="#132008"/>
<rect x="75.10" y="347.80" width="0.80" height="39.35" fill="#050a02" opacity="0.6"/>
<rect x="75.10" y="347.80" width="19.00" height="1.00" fill="#0a1204" opacity="0.85"/>
<polygon points="82.10,347.80 83.10,347.80 83.10,387.15 82.10,387.15" fill="#66725a" opacity="1.0"/>
<polygon points="86.90,347.80 87.90,347.80 87.90,387.15 86.90,387.15" fill="#66725a" opacity="1.0"/>
<rect transform="translate(75.10,347.80)" x="6.0" y="6" width="7.4" height="28" fill="#3a8a20" opacity="0.7" filter="url(#bl12)"/>
<path transform="translate(75.10,347.80)" d="M6.8 7 L8.2 7 Q9.4 11 9.6 12.5 Q9.9 11 11.0 7 L12.4 7 Q11.6 12 11.4 16 Q11.4 22 11.4 26 Q11.8 29 12.4 32 L11.0 32 Q10 29.5 9.6 28.5 Q9.2 29.5 8.2 32 L6.8 32 Q7.4 29 7.8 26 Q7.8 22 7.8 16 Q7.6 12 6.8 7 Z" fill="#86f03c" opacity="0.45" filter="url(#bl12)"/><path transform="translate(75.10,347.80)" d="M6.8 7 L8.2 7 Q9.4 11 9.6 12.5 Q9.9 11 11.0 7 L12.4 7 Q11.6 12 11.4 16 Q11.4 22 11.4 26 Q11.8 29 12.4 32 L11.0 32 Q10 29.5 9.6 28.5 Q9.2 29.5 8.2 32 L6.8 32 Q7.4 29 7.8 26 Q7.8 22 7.8 16 Q7.6 12 6.8 7 Z" fill="#86f03c" opacity="1.0" filter="url(#bl5)"/>
<ellipse transform="translate(75.10,347.80)" cx="9.6" cy="21.4" rx="0.8" ry="2.2" fill="#1e4a10" opacity="1.0" filter="url(#bl5)"/>
</g>
<g clip-path="url(#c30)">
<rect x="96.30" y="347.80" width="19.10" height="39.35" fill="#132008"/>
<rect x="96.30" y="347.80" width="0.80" height="39.35" fill="#050a02" opacity="0.6"/>
<rect x="96.30" y="347.80" width="19.10" height="1.00" fill="#0a1204" opacity="0.85"/>
<polygon points="102.30,347.80 103.30,347.80 103.30,387.15 102.30,387.15" fill="#66725a" opacity="1.0"/>
<polygon points="107.40,347.80 108.40,347.80 108.40,387.15 107.40,387.15" fill="#66725a" opacity="1.0"/>
<rect transform="translate(96.30,347.80)" x="5.6" y="6" width="7.6" height="29" fill="#3a8a20" opacity="0.6" filter="url(#bl12)"/>
<path transform="translate(96.30,347.80)" d="M6.0 7.5 L7.4 7.5 Q8.8 11 9.2 13 Q9.8 11 11.0 7.5 L12.2 7.5 Q11.8 14 11.9 20 Q11.8 28 12.2 33 Q9.2 35.5 6.2 33 Q6.6 26 6.6 20 Q6.6 14 6.0 7.5 Z" fill="#86f03c" opacity="0.45" filter="url(#bl12)"/><path transform="translate(96.30,347.80)" d="M6.0 7.5 L7.4 7.5 Q8.8 11 9.2 13 Q9.8 11 11.0 7.5 L12.2 7.5 Q11.8 14 11.9 20 Q11.8 28 12.2 33 Q9.2 35.5 6.2 33 Q6.6 26 6.6 20 Q6.6 14 6.0 7.5 Z" fill="#86f03c" opacity="1.0" filter="url(#bl5)"/>
<ellipse transform="translate(96.30,347.80)" cx="18" cy="1" rx="0.5" ry="0.6" fill="#3a8a20" opacity="1.0" filter="url(#bl5)"/>
<ellipse transform="translate(96.30,347.80)" cx="17.5" cy="14.5" rx="0.5" ry="0.6" fill="#3a8a20" opacity="1.0" filter="url(#bl5)"/>
</g>
<g clip-path="url(#c31)">
<rect x="33.00" y="391.00" width="18.80" height="39.35" fill="#131d06"/>
<rect x="33.00" y="391.00" width="0.80" height="39.35" fill="#050a02" opacity="0.6"/>
<rect x="33.00" y="391.00" width="18.80" height="1.00" fill="#0a1204" opacity="0.85"/>
<polygon points="40.90,391.00 41.90,391.00 41.90,430.35 40.90,430.35" fill="#66725a" opacity="1.0"/>
<polygon points="45.80,391.00 46.80,391.00 46.80,430.35 45.80,430.35" fill="#66725a" opacity="1.0"/>
</g>
<g clip-path="url(#c32)">
<rect x="54.40" y="391.00" width="18.30" height="39.35" fill="#131d06"/>
<rect x="54.40" y="391.00" width="0.80" height="39.35" fill="#050a02" opacity="0.6"/>
<rect x="54.40" y="391.00" width="18.30" height="1.00" fill="#0a1204" opacity="0.85"/>
<polygon points="61.00,391.00 62.00,391.00 62.00,430.35 61.00,430.35" fill="#66725a" opacity="1.0"/>
<polygon points="66.10,391.00 67.10,391.00 67.10,430.35 66.10,430.35" fill="#66725a" opacity="1.0"/>
<path transform="translate(54.40,391.00)" d="M7.4 11 Q8.6 16 8.6 22 Q8.8 28 8.0 32 L7.4 32 Q7.0 26 7.2 20 Z" fill="#7ae03a" opacity="0.45" filter="url(#bl12)"/><path transform="translate(54.40,391.00)" d="M7.4 11 Q8.6 16 8.6 22 Q8.8 28 8.0 32 L7.4 32 Q7.0 26 7.2 20 Z" fill="#7ae03a" opacity="1.0" filter="url(#bl5)"/>
<ellipse transform="translate(54.40,391.00)" cx="12.1" cy="26.8" rx="0.6" ry="0.8" fill="#4aa028" opacity="1.0" filter="url(#bl5)"/>
</g>
<g clip-path="url(#c33)">
<rect x="75.10" y="391.00" width="19.00" height="39.35" fill="#131d06"/>
<rect x="75.10" y="391.00" width="0.80" height="39.35" fill="#050a02" opacity="0.6"/>
<rect x="75.10" y="391.00" width="19.00" height="1.00" fill="#0a1204" opacity="0.85"/>
<polygon points="80.90,391.00 81.90,391.00 81.90,430.35 80.90,430.35" fill="#66725a" opacity="1.0"/>
<polygon points="86.00,391.00 87.00,391.00 87.00,430.35 86.00,430.35" fill="#66725a" opacity="1.0"/>
<path transform="translate(75.10,391.00)" d="M7.0 11 Q8.2 14 8.4 18 Q9.2 24 9.4 29 Q9 33 7.6 34 Q6.8 28 7.0 22 Q6.8 16 7.0 11 Z" fill="#84ee3c" opacity="0.45" filter="url(#bl12)"/><path transform="translate(75.10,391.00)" d="M7.0 11 Q8.2 14 8.4 18 Q9.2 24 9.4 29 Q9 33 7.6 34 Q6.8 28 7.0 22 Q6.8 16 7.0 11 Z" fill="#84ee3c" opacity="1.0" filter="url(#bl5)"/>
<ellipse transform="translate(75.10,391.00)" cx="7.5" cy="8" rx="0.5" ry="0.8" fill="#4aa028" opacity="1.0" filter="url(#bl5)"/>
</g>
<g clip-path="url(#c34)">
<rect x="96.30" y="391.00" width="19.10" height="39.35" fill="#131d06"/>
<rect x="96.30" y="391.00" width="0.80" height="39.35" fill="#050a02" opacity="0.6"/>
<rect x="96.30" y="391.00" width="19.10" height="1.00" fill="#0a1204" opacity="0.85"/>
<polygon points="102.50,391.00 103.50,391.00 103.50,430.35 102.50,430.35" fill="#66725a" opacity="1.0"/>
<polygon points="107.20,391.00 108.20,391.00 108.20,430.35 107.20,430.35" fill="#66725a" opacity="1.0"/>
<path transform="translate(96.30,391.00)" d="M7.0 11 Q8.4 14 8.4 18 Q9.8 24 9.8 28 Q9.4 33 7.8 33.5 Q6.8 28 7.0 22 Q6.8 16 7.0 11 Z" fill="#84ee3c" opacity="0.45" filter="url(#bl12)"/><path transform="translate(96.30,391.00)" d="M7.0 11 Q8.4 14 8.4 18 Q9.8 24 9.8 28 Q9.4 33 7.8 33.5 Q6.8 28 7.0 22 Q6.8 16 7.0 11 Z" fill="#84ee3c" opacity="1.0" filter="url(#bl5)"/>
<ellipse transform="translate(96.30,391.00)" cx="7.6" cy="8" rx="0.5" ry="0.8" fill="#4aa028" opacity="1.0" filter="url(#bl5)"/>
</g>
<text x="49.80" y="37.20" font-size="6.7" textLength="47.60" lengthAdjust="spacingAndGlyphs" fill="#222">Fecl<tspan font-size="4.4" dy="4.8">3</tspan><tspan dy="-4.8" dx="0.7">injury (male)</tspan></text>
<line x1="49.80" y1="40.20" x2="97.40" y2="40.20" stroke="#555" stroke-width="0.9"/>
<text x="31.70" y="82.60" font-size="6.5" textLength="22.50" lengthAdjust="spacingAndGlyphs" fill="#222" transform="rotate(-90 31.70 82.60)">PKM2<tspan font-size="3.9" dy="-3.7">fl/fl</tspan></text>
<text x="24.20" y="116.40" font-size="6.5" textLength="23.40" lengthAdjust="spacingAndGlyphs" fill="#222" transform="rotate(-90 24.20 116.40)">PKM2<tspan font-size="3.9" dy="-3.7">fl/fl</tspan></text>
<text x="31.20" y="116.60" font-size="6.5" textLength="23.80" lengthAdjust="spacingAndGlyphs" fill="#222" transform="rotate(-90 31.20 116.60)">PF4Cre+</text>
<text x="7.40" y="129.30" font-size="6.9" textLength="30.10" lengthAdjust="spacingAndGlyphs" fill="#222">Time (min)</text>
<text x="42.70" y="129.40" font-size="6.6" text-anchor="middle" fill="#222">2</text>
<text x="60.30" y="129.40" font-size="6.6" text-anchor="middle" fill="#222">5</text>
<text x="77.60" y="129.40" font-size="6.6" text-anchor="middle" fill="#222">8</text>
<text x="95.20" y="129.40" font-size="6.6" text-anchor="middle" fill="#222">10</text>
<text x="330.3" y="23.4" font-size="6.7" textLength="32.8" lengthAdjust="spacingAndGlyphs" fill="#222">Laser injury</text>
<line x1="330.30" y1="25.70" x2="363.10" y2="25.70" stroke="#555" stroke-width="0.9"/>
<text x="282.80" y="36.00" font-size="6.9" textLength="21.20" lengthAdjust="spacingAndGlyphs" fill="#222">Time (s)</text>
<text x="314.20" y="36.10" font-size="6.6" text-anchor="middle" fill="#222">0</text>
<text x="331.90" y="36.10" font-size="6.6" text-anchor="middle" fill="#222">20</text>
<text x="348.80" y="36.10" font-size="6.6" text-anchor="middle" fill="#222">40</text>
<text x="365.40" y="36.10" font-size="6.6" text-anchor="middle" fill="#222">80</text>
<text x="382.70" y="36.10" font-size="6.6" text-anchor="middle" fill="#222">120</text>
<text x="304.30" y="69.80" font-size="6.5" textLength="22.90" lengthAdjust="spacingAndGlyphs" fill="#222" transform="rotate(-90 304.30 69.80)">PKM2<tspan font-size="3.9" dy="-3.7">fl/fl</tspan></text>
<text x="296.30" y="109.20" font-size="6.5" textLength="22.70" lengthAdjust="spacingAndGlyphs" fill="#222" transform="rotate(-90 296.30 109.20)">PKM2<tspan font-size="3.9" dy="-3.7">fl/fl</tspan></text>
<text x="305.00" y="109.60" font-size="6.5" textLength="23.30" lengthAdjust="spacingAndGlyphs" fill="#222" transform="rotate(-90 305.00 109.60)">PF4Cre+</text>
<text x="52.00" y="183.40" font-size="6.7" textLength="53.50" lengthAdjust="spacingAndGlyphs" fill="#222">Fecl<tspan font-size="4.4" dy="4.8">3</tspan><tspan dy="-4.8" dx="0.7">injury (female)</tspan></text>
<line x1="52.00" y1="186.20" x2="105.50" y2="186.20" stroke="#555" stroke-width="0.9"/>
<text x="29.10" y="222.90" font-size="6.5" textLength="22.60" lengthAdjust="spacingAndGlyphs" fill="#222" transform="rotate(-90 29.10 222.90)">PKM2<tspan font-size="3.9" dy="-3.7">fl/fl</tspan></text>
<text x="22.30" y="269.90" font-size="6.5" textLength="23.00" lengthAdjust="spacingAndGlyphs" fill="#222" transform="rotate(-90 22.30 269.90)">PKM2<tspan font-size="3.9" dy="-3.7">fl/fl</tspan></text>
<text x="29.70" y="270.30" font-size="6.5" textLength="23.00" lengthAdjust="spacingAndGlyphs" fill="#222" transform="rotate(-90 29.70 270.30)">PF4Cre+</text>
<text x="7.40" y="283.90" font-size="6.9" textLength="30.10" lengthAdjust="spacingAndGlyphs" fill="#222">Time (min)</text>
<text x="43.30" y="284.00" font-size="6.6" text-anchor="middle" fill="#222">2</text>
<text x="63.50" y="284.00" font-size="6.6" text-anchor="middle" fill="#222">5</text>
<text x="84.60" y="284.00" font-size="6.6" text-anchor="middle" fill="#222">8</text>
<text x="104.30" y="284.00" font-size="6.6" text-anchor="middle" fill="#222">10</text>
<text x="57.90" y="336.70" font-size="6.7" textLength="29.10" lengthAdjust="spacingAndGlyphs" fill="#222">Fecl<tspan font-size="4.4" dy="4.8">3</tspan><tspan dy="-4.8" dx="0.7">injury</tspan></text>
<line x1="57.90" y1="339.70" x2="87.00" y2="339.70" stroke="#555" stroke-width="0.9"/>
<text x="29.90" y="374.90" font-size="6.5" textLength="20.70" lengthAdjust="spacingAndGlyphs" fill="#222" transform="rotate(-90 29.90 374.90)">Vehicle</text>
<text x="22.80" y="416.00" font-size="6.5" textLength="19.40" lengthAdjust="spacingAndGlyphs" fill="#222" transform="rotate(-90 22.80 416.00)">ML265</text>
<text x="29.20" y="421.60" font-size="6.5" textLength="30.60" lengthAdjust="spacingAndGlyphs" fill="#222" transform="rotate(-90 29.20 421.60)">(50 mg/kg)</text>
<text x="7.40" y="438.40" font-size="6.9" textLength="29.80" lengthAdjust="spacingAndGlyphs" fill="#222">Time (min)</text>
<text x="43.80" y="438.50" font-size="6.6" text-anchor="middle" fill="#222">0</text>
<text x="63.30" y="438.50" font-size="6.6" text-anchor="middle" fill="#222">5</text>
<text x="84.40" y="438.50" font-size="6.6" text-anchor="middle" fill="#222">8</text>
<text x="105.50" y="438.50" font-size="6.6" text-anchor="middle" fill="#222">10</text>
<line x1="135.50" y1="48.00" x2="135.50" y2="123.10" stroke="#1a1a1a" stroke-width="1.15"/>
<line x1="132.30" y1="122.60" x2="135.50" y2="122.60" stroke="#1a1a1a" stroke-width="0.9"/>
<text x="129.60" y="124.80" font-size="6.2" text-anchor="end" fill="#222">0</text>
<line x1="132.30" y1="110.60" x2="135.50" y2="110.60" stroke="#1a1a1a" stroke-width="0.9"/>
<text x="129.60" y="112.80" font-size="6.2" text-anchor="end" fill="#222">5</text>
<line x1="132.30" y1="98.60" x2="135.50" y2="98.60" stroke="#1a1a1a" stroke-width="0.9"/>
<text x="129.60" y="100.80" font-size="6.2" text-anchor="end" fill="#222">10</text>
<line x1="132.30" y1="86.60" x2="135.50" y2="86.60" stroke="#1a1a1a" stroke-width="0.9"/>
<text x="129.60" y="88.80" font-size="6.2" text-anchor="end" fill="#222">15</text>
<line x1="132.30" y1="74.60" x2="135.50" y2="74.60" stroke="#1a1a1a" stroke-width="0.9"/>
<text x="129.60" y="76.80" font-size="6.2" text-anchor="end" fill="#222">20</text>
<line x1="132.30" y1="62.60" x2="135.50" y2="62.60" stroke="#1a1a1a" stroke-width="0.9"/>
<text x="129.60" y="64.80" font-size="6.2" text-anchor="end" fill="#222">25</text>
<line x1="132.30" y1="50.60" x2="135.50" y2="50.60" stroke="#1a1a1a" stroke-width="0.9"/>
<text x="129.60" y="52.80" font-size="6.2" text-anchor="end" fill="#222">30</text>
<line x1="132.90" y1="122.50" x2="183.70" y2="122.50" stroke="#1a1a1a" stroke-width="1.15"/>
<rect x="142.90" y="83.90" width="13.90" height="38.70" fill="#2f4b7c"/>
<rect x="163.10" y="70.90" width="14.20" height="51.70" fill="#a3002b"/>
<line x1="149.60" y1="82.80" x2="149.60" y2="86.00" stroke="#1a1a1a" stroke-width="0.9"/>
<line x1="145.60" y1="82.80" x2="153.60" y2="82.80" stroke="#1a1a1a" stroke-width="0.9"/>
<line x1="145.60" y1="86.00" x2="153.60" y2="86.00" stroke="#1a1a1a" stroke-width="0.9"/>
<circle cx="149.50" cy="79.10" r="1.35" fill="#1a1a1a"/>
<circle cx="153.20" cy="80.50" r="1.35" fill="#1a1a1a"/>
<circle cx="146.00" cy="82.60" r="1.35" fill="#1a1a1a"/>
<circle cx="149.50" cy="83.40" r="1.35" fill="#1a1a1a"/>
<circle cx="144.30" cy="85.50" r="1.35" fill="#1a1a1a"/>
<circle cx="150.80" cy="86.30" r="1.35" fill="#1a1a1a"/>
<circle cx="154.60" cy="84.50" r="1.35" fill="#1a1a1a"/>
<circle cx="147.60" cy="88.20" r="1.35" fill="#1a1a1a"/>
<line x1="170.30" y1="66.60" x2="170.30" y2="73.50" stroke="#1a1a1a" stroke-width="1.0"/>
<line x1="167.00" y1="66.60" x2="173.60" y2="66.60" stroke="#1a1a1a" stroke-width="1.0"/>
<rect x="169.00" y="49.10" width="2.6" height="2.6" fill="#1a1a1a"/>
<rect x="169.00" y="58.80" width="2.6" height="2.6" fill="#1a1a1a"/>
<rect x="169.00" y="63.20" width="2.6" height="2.6" fill="#1a1a1a"/>
<rect x="169.00" y="71.30" width="2.6" height="2.6" fill="#1a1a1a"/>
<rect x="164.70" y="76.70" width="2.6" height="2.6" fill="#1a1a1a"/>
<rect x="172.40" y="75.30" width="2.6" height="2.6" fill="#1a1a1a"/>
<rect x="169.00" y="78.10" width="2.6" height="2.6" fill="#1a1a1a"/>
<rect x="168.80" y="82.60" width="2.6" height="2.6" fill="#1a1a1a"/>
<line x1="146.90" y1="46.90" x2="170.40" y2="46.90" stroke="#707070" stroke-width="1.3"/>
<text x="158.50" y="43.90" font-size="6.0" text-anchor="middle" fill="#333" textLength="17.20" lengthAdjust="spacingAndGlyphs"><tspan font-style="italic">P</tspan> &lt; .05</text>
<text x="116.30" y="83.30" font-size="7.2" text-anchor="middle" textLength="70.20" lengthAdjust="spacingAndGlyphs" fill="#222" transform="rotate(-90 116.30 83.30)">Time to occlusion (min)</text>
<text x="151.90" y="129.20" font-size="7.0" text-anchor="end" fill="#222" transform="rotate(-45 151.90 129.20)" textLength="21.50" lengthAdjust="spacingAndGlyphs">PKM2<tspan font-size="4.2" dy="-3.0">fl/fl</tspan></text>
<text x="172.10" y="129.20" font-size="7.0" text-anchor="end" fill="#222" transform="rotate(-45 172.10 129.20)" textLength="21.50" lengthAdjust="spacingAndGlyphs">PKM2<tspan font-size="4.2" dy="-3.0">fl/fl</tspan></text>
<text x="176.91" y="134.01" font-size="7.0" text-anchor="end" fill="#222" transform="rotate(-45 176.91 134.01)" textLength="24.50" lengthAdjust="spacingAndGlyphs">PF4Cre+</text>
<line x1="215.50" y1="54.90" x2="215.50" y2="122.60" stroke="#1a1a1a" stroke-width="1.15"/>
<line x1="212.30" y1="122.10" x2="215.50" y2="122.10" stroke="#1a1a1a" stroke-width="0.9"/>
<text x="209.60" y="124.30" font-size="6.2" text-anchor="end" fill="#222">0</text>
<line x1="212.30" y1="109.20" x2="215.50" y2="109.20" stroke="#1a1a1a" stroke-width="0.9"/>
<text x="209.60" y="111.40" font-size="6.2" text-anchor="end" fill="#222">10</text>
<line x1="212.30" y1="96.30" x2="215.50" y2="96.30" stroke="#1a1a1a" stroke-width="0.9"/>
<text x="209.60" y="98.50" font-size="6.2" text-anchor="end" fill="#222">20</text>
<line x1="212.30" y1="83.40" x2="215.50" y2="83.40" stroke="#1a1a1a" stroke-width="0.9"/>
<text x="209.60" y="85.60" font-size="6.2" text-anchor="end" fill="#222">30</text>
<line x1="212.30" y1="70.50" x2="215.50" y2="70.50" stroke="#1a1a1a" stroke-width="0.9"/>
<text x="209.60" y="72.70" font-size="6.2" text-anchor="end" fill="#222">40</text>
<line x1="212.30" y1="57.60" x2="215.50" y2="57.60" stroke="#1a1a1a" stroke-width="0.9"/>
<text x="209.60" y="59.80" font-size="6.2" text-anchor="end" fill="#222">50</text>
<line x1="214.20" y1="122.50" x2="277.00" y2="122.50" stroke="#1a1a1a" stroke-width="1.15"/>
<line x1="215.60" y1="122.10" x2="215.60" y2="124.70" stroke="#1a1a1a" stroke-width="0.9"/>
<text x="215.60" y="133.40" font-size="6.2" text-anchor="middle" fill="#222">0</text>
<line x1="230.20" y1="122.10" x2="230.20" y2="124.70" stroke="#1a1a1a" stroke-width="0.9"/>
<text x="230.20" y="133.40" font-size="6.2" text-anchor="middle" fill="#222">2</text>
<line x1="244.80" y1="122.10" x2="244.80" y2="124.70" stroke="#1a1a1a" stroke-width="0.9"/>
<text x="244.80" y="133.40" font-size="6.2" text-anchor="middle" fill="#222">4</text>
<line x1="259.40" y1="122.10" x2="259.40" y2="124.70" stroke="#1a1a1a" stroke-width="0.9"/>
<text x="259.40" y="133.40" font-size="6.2" text-anchor="middle" fill="#222">6</text>
<line x1="274.00" y1="122.10" x2="274.00" y2="124.70" stroke="#1a1a1a" stroke-width="0.9"/>
<text x="274.00" y="133.40" font-size="6.2" text-anchor="middle" fill="#222">8</text>
<text x="246.00" y="144.00" font-size="7.2" text-anchor="middle" textLength="32.30" lengthAdjust="spacingAndGlyphs" fill="#222">Time (min)</text>
<text x="197.00" y="88.30" font-size="7.2" text-anchor="middle" textLength="93.30" lengthAdjust="spacingAndGlyphs" fill="#222" transform="rotate(-90 197.00 88.30)">Thrombus growth (fold change)</text>
<line x1="215.60" y1="122.10" x2="274.00" y2="74.63" stroke="#2c4a8a" stroke-width="1.3"/>
<line x1="215.60" y1="122.10" x2="274.00" y2="86.37" stroke="#b0103a" stroke-width="1.3"/>
<line x1="222.90" y1="116.94" x2="222.90" y2="120.16" stroke="#2c4a8a" stroke-width="0.8"/>
<line x1="221.90" y1="116.94" x2="223.90" y2="116.94" stroke="#2c4a8a" stroke-width="0.8"/>
<line x1="221.90" y1="120.16" x2="223.90" y2="120.16" stroke="#2c4a8a" stroke-width="0.8"/>
<circle cx="222.90" cy="118.49" r="1.2" fill="#2c4a8a"/>
<line x1="237.50" y1="107.91" x2="237.50" y2="113.07" stroke="#2c4a8a" stroke-width="0.8"/>
<line x1="236.50" y1="107.91" x2="238.50" y2="107.91" stroke="#2c4a8a" stroke-width="0.8"/>
<line x1="236.50" y1="113.07" x2="238.50" y2="113.07" stroke="#2c4a8a" stroke-width="0.8"/>
<circle cx="237.50" cy="110.49" r="1.2" fill="#2c4a8a"/>
<line x1="252.10" y1="95.91" x2="252.10" y2="100.81" stroke="#2c4a8a" stroke-width="0.8"/>
<line x1="251.10" y1="95.91" x2="253.10" y2="95.91" stroke="#2c4a8a" stroke-width="0.8"/>
<line x1="251.10" y1="100.81" x2="253.10" y2="100.81" stroke="#2c4a8a" stroke-width="0.8"/>
<circle cx="252.10" cy="98.49" r="1.2" fill="#2c4a8a"/>
<line x1="266.70" y1="76.43" x2="266.70" y2="83.66" stroke="#2c4a8a" stroke-width="0.8"/>
<line x1="265.70" y1="76.43" x2="267.70" y2="76.43" stroke="#2c4a8a" stroke-width="0.8"/>
<line x1="265.70" y1="83.66" x2="267.70" y2="83.66" stroke="#2c4a8a" stroke-width="0.8"/>
<circle cx="266.70" cy="80.56" r="1.2" fill="#2c4a8a"/>
<line x1="274.00" y1="62.24" x2="274.00" y2="72.05" stroke="#2c4a8a" stroke-width="0.8"/>
<line x1="273.00" y1="62.24" x2="275.00" y2="62.24" stroke="#2c4a8a" stroke-width="0.8"/>
<line x1="273.00" y1="72.05" x2="275.00" y2="72.05" stroke="#2c4a8a" stroke-width="0.8"/>
<circle cx="274.00" cy="67.40" r="1.2" fill="#2c4a8a"/>
<line x1="222.90" y1="116.94" x2="222.90" y2="119.52" stroke="#b0103a" stroke-width="0.8"/>
<line x1="221.90" y1="116.94" x2="223.90" y2="116.94" stroke="#b0103a" stroke-width="0.8"/>
<line x1="221.90" y1="119.52" x2="223.90" y2="119.52" stroke="#b0103a" stroke-width="0.8"/>
<circle cx="222.90" cy="118.23" r="1.2" fill="#b0103a"/>
<line x1="237.50" y1="108.55" x2="237.50" y2="115.00" stroke="#b0103a" stroke-width="0.8"/>
<line x1="236.50" y1="108.55" x2="238.50" y2="108.55" stroke="#b0103a" stroke-width="0.8"/>
<line x1="236.50" y1="115.00" x2="238.50" y2="115.00" stroke="#b0103a" stroke-width="0.8"/>
<circle cx="237.50" cy="112.81" r="1.2" fill="#b0103a"/>
<line x1="252.10" y1="98.23" x2="252.10" y2="107.26" stroke="#b0103a" stroke-width="0.8"/>
<line x1="251.10" y1="98.23" x2="253.10" y2="98.23" stroke="#b0103a" stroke-width="0.8"/>
<line x1="251.10" y1="107.26" x2="253.10" y2="107.26" stroke="#b0103a" stroke-width="0.8"/>
<circle cx="252.10" cy="103.27" r="1.2" fill="#b0103a"/>
<line x1="266.70" y1="88.56" x2="266.70" y2="94.36" stroke="#b0103a" stroke-width="0.8"/>
<line x1="265.70" y1="88.56" x2="267.70" y2="88.56" stroke="#b0103a" stroke-width="0.8"/>
<line x1="265.70" y1="94.36" x2="267.70" y2="94.36" stroke="#b0103a" stroke-width="0.8"/>
<circle cx="266.70" cy="91.27" r="1.2" fill="#b0103a"/>
<line x1="274.00" y1="76.30" x2="274.00" y2="86.62" stroke="#b0103a" stroke-width="0.8"/>
<line x1="273.00" y1="76.30" x2="275.00" y2="76.30" stroke="#b0103a" stroke-width="0.8"/>
<line x1="273.00" y1="86.62" x2="275.00" y2="86.62" stroke="#b0103a" stroke-width="0.8"/>
<circle cx="274.00" cy="81.85" r="1.2" fill="#b0103a"/>
<text x="266.70" y="73.90" font-size="5.0" text-anchor="middle">*</text>
<text x="274.00" y="57.40" font-size="5.0" text-anchor="middle">*</text>
<line x1="218.00" y1="58.50" x2="226.90" y2="58.50" stroke="#2c4a8a" stroke-width="1.0"/>
<circle cx="222.50" cy="58.50" r="1.1" fill="#2c4a8a"/>
<line x1="218.00" y1="65.10" x2="226.90" y2="65.10" stroke="#b0103a" stroke-width="1.0"/>
<circle cx="222.50" cy="65.10" r="1.1" fill="#b0103a"/>
<text x="228.7" y="60.5" font-size="5.3" fill="#222" textLength="14.4" lengthAdjust="spacingAndGlyphs">PKM2<tspan font-size="3.0" dy="-2.5">fl/fl</tspan></text>
<text x="228.7" y="67.1" font-size="5.3" fill="#222" textLength="39.1" lengthAdjust="spacingAndGlyphs">PKM2<tspan font-size="3.0" dy="-2.5">fl/fl</tspan><tspan font-size="5.3" dy="2.5">PF4Cre+</tspan></text>
<line x1="434.00" y1="71.40" x2="434.00" y2="121.90" stroke="#4a4a4a" stroke-width="1.5"/>
<line x1="430.80" y1="121.90" x2="434.00" y2="121.90" stroke="#333" stroke-width="0.9"/>
<text x="428.00" y="124.10" font-size="6.2" text-anchor="end" fill="#222">0</text>
<line x1="430.80" y1="105.70" x2="434.00" y2="105.70" stroke="#333" stroke-width="0.9"/>
<text x="428.00" y="107.90" font-size="6.2" text-anchor="end" fill="#222">0.5</text>
<line x1="430.80" y1="89.50" x2="434.00" y2="89.50" stroke="#333" stroke-width="0.9"/>
<text x="428.00" y="91.70" font-size="6.2" text-anchor="end" fill="#222">1</text>
<line x1="430.80" y1="73.30" x2="434.00" y2="73.30" stroke="#333" stroke-width="0.9"/>
<text x="428.00" y="75.50" font-size="6.2" text-anchor="end" fill="#222">1.5</text>
<line x1="432.80" y1="121.50" x2="509.80" y2="121.50" stroke="#1a1a1a" stroke-width="1.15"/>
<line x1="452.77" y1="121.90" x2="452.77" y2="124.50" stroke="#1a1a1a" stroke-width="0.9"/>
<text x="452.77" y="133.40" font-size="6.2" text-anchor="middle" fill="#222">50</text>
<line x1="470.65" y1="121.90" x2="470.65" y2="124.50" stroke="#1a1a1a" stroke-width="0.9"/>
<text x="470.65" y="133.40" font-size="6.2" text-anchor="middle" fill="#222">100</text>
<line x1="488.52" y1="121.90" x2="488.52" y2="124.50" stroke="#1a1a1a" stroke-width="0.9"/>
<text x="488.52" y="133.40" font-size="6.2" text-anchor="middle" fill="#222">150</text>
<line x1="506.40" y1="121.90" x2="506.40" y2="124.50" stroke="#1a1a1a" stroke-width="0.9"/>
<text x="506.40" y="133.40" font-size="6.2" text-anchor="middle" fill="#222">200</text>
<line x1="434.60" y1="121.90" x2="434.60" y2="124.10" stroke="#1a1a1a" stroke-width="0.7"/>
<line x1="436.20" y1="121.90" x2="436.20" y2="124.10" stroke="#1a1a1a" stroke-width="0.7"/>
<text x="435.80" y="133.40" font-size="6.2" text-anchor="middle" fill="#222">5</text>
<text x="472.00" y="144.30" font-size="7.2" text-anchor="middle" textLength="23.00" lengthAdjust="spacingAndGlyphs" fill="#222">Time (s)</text>
<text x="403.50" y="96.20" font-size="7.2" text-anchor="middle" textLength="55.90" lengthAdjust="spacingAndGlyphs" fill="#222" transform="rotate(-90 403.50 96.20)">Mean fluorescence</text>
<text x="413.8" y="95.9" font-size="7.2" text-anchor="middle" fill="#222" transform="rotate(-90 413.8 95.9)" textLength="43.1" lengthAdjust="spacingAndGlyphs">intensity (10<tspan font-size="4.2" dy="-2.8">4</tspan><tspan font-size="7.2" dy="2.8">)</tspan></text>
<path d="M435.60 121.18 L436.15 119.49 L436.70 118.75 L437.25 117.33 L437.80 116.86 L438.35 115.77 L438.90 114.53 L439.45 113.97 L440.00 112.58 L440.55 111.97 L441.10 110.67 L441.65 109.72 L442.20 107.53 L442.75 102.38 L443.30 100.83 L443.85 100.00 L444.40 99.63 L444.95 99.25 L445.50 98.24 L446.05 97.41 L446.60 97.12 L447.15 95.36 L447.70 95.17 L448.25 93.73 L448.80 92.71 L449.35 91.81 L449.90 91.12 L450.45 90.67 L451.00 88.85 L451.55 88.01 L452.10 87.33 L452.65 86.35 L453.20 85.73 L453.75 84.42 L454.30 83.55 L454.85 82.81 L455.40 82.36 L455.95 81.91 L456.50 81.58 L457.05 81.60 L457.60 81.25 L458.15 80.88 L458.70 81.10 L459.25 80.79 L459.80 80.15 L460.35 80.27 L460.90 80.08 L461.45 80.25 L462.00 79.97 L462.55 79.43 L463.10 79.90 L463.65 78.96 L464.20 79.06 L464.75 79.19 L465.30 78.48 L465.85 78.61 L466.40 78.03 L466.95 78.43 L467.50 78.35 L468.05 78.00 L468.60 78.16 L469.15 77.75 L469.70 78.19 L470.25 78.20 L470.80 78.28 L471.35 78.27 L471.90 78.71 L472.45 78.90 L473.00 78.58 L473.55 78.73 L474.10 78.16 L474.65 78.72 L475.20 78.65 L475.75 78.94 L476.30 78.77 L476.85 78.27 L477.40 78.34 L477.95 78.57 L478.50 77.97 L479.05 78.46 L479.60 78.28 L480.15 78.33 L480.70 78.36 L481.25 79.09 L481.80 78.61 L482.35 78.80 L482.90 79.02 L483.45 79.54 L484.00 78.92 L484.55 79.38 L485.10 79.59 L485.65 80.02 L486.20 80.08 L486.75 80.25 L487.30 79.84 L487.85 80.09 L488.40 80.23 L488.95 80.91 L489.50 81.19 L490.05 80.67 L490.60 80.91 L491.15 81.17 L491.70 81.38 L492.25 81.82 L492.80 82.12 L493.35 82.04 L493.90 82.02 L494.45 82.65 L495.00 82.88 L495.55 83.33 L496.10 83.96 L496.65 84.00 L497.20 84.11 L497.75 84.48 L498.30 84.81 L498.85 84.52 L499.40 85.56 L499.95 85.73 L500.50 86.10 L501.05 86.33 L501.60 86.26 L502.15 86.56 L502.70 86.59 L503.25 87.36 L503.80 87.14 L504.35 87.44 L504.90 87.86 L505.45 88.12 L505.6 114.6 L505.10 114.55 L504.55 114.21 L504.00 114.62 L503.45 114.63 L502.90 114.60 L502.35 114.93 L501.80 114.54 L501.25 114.92 L500.70 114.67 L500.15 114.57 L499.60 114.48 L499.05 114.91 L498.50 114.27 L497.95 114.49 L497.40 114.36 L496.85 114.61 L496.30 114.32 L495.75 114.35 L495.20 114.31 L494.65 114.26 L494.10 114.74 L493.55 114.77 L493.00 114.41 L492.45 114.80 L491.90 114.46 L491.35 114.55 L490.80 114.79 L490.25 114.02 L489.70 114.09 L489.15 114.40 L488.60 114.21 L488.05 114.43 L487.50 114.67 L486.95 114.52 L486.40 113.95 L485.85 114.45 L485.30 114.50 L484.75 113.87 L484.20 113.83 L483.65 113.83 L483.10 114.25 L482.55 114.39 L482.00 113.92 L481.45 113.89 L480.90 114.32 L480.35 114.15 L479.80 113.74 L479.25 114.08 L478.70 113.56 L478.15 113.76 L477.60 113.95 L477.05 113.94 L476.50 114.01 L475.95 113.78 L475.40 113.29 L474.85 113.82 L474.30 113.63 L473.75 113.42 L473.20 113.64 L472.65 113.61 L472.10 113.32 L471.55 112.91 L471.00 112.83 L470.45 112.79 L469.90 112.71 L469.35 112.75 L468.80 113.15 L468.25 113.11 L467.70 112.99 L467.15 112.53 L466.60 112.87 L466.05 112.58 L465.50 112.16 L464.95 112.11 L464.40 111.84 L463.85 111.57 L463.30 111.53 L462.75 111.35 L462.20 110.81 L461.65 110.91 L461.10 110.67 L460.55 110.35 L460.00 110.08 L459.45 110.07 L458.90 109.82 L458.35 109.23 L457.80 109.20 L457.25 109.45 L456.70 109.14 L456.15 109.21 L455.60 108.61 L455.05 108.62 L454.50 108.39 L453.95 108.59 L453.40 108.58 L452.85 108.52 L452.30 108.31 L451.75 108.17 L451.20 108.84 L450.65 108.78 L450.10 109.35 L449.55 109.94 L449.00 109.62 L448.45 110.28 L447.90 111.36 L447.35 111.46 L446.80 112.07 L446.25 112.47 L445.70 113.42 L445.15 114.71 L444.60 115.66 L444.05 117.05 L443.50 117.90 L442.95 118.26 L442.40 119.19 L441.85 119.91 L441.30 120.57 L440.75 121.22 L440.20 121.82 L439.65 122.06 L439.10 121.42 L438.55 121.73 L438.00 121.56 L437.45 121.64 L436.90 121.55 L436.35 121.63 L435.80 114.47 Z" fill="#000"/>
<path d="M459.80 100.15 L460.35 99.53 L460.90 99.79 L461.45 98.76 L462.00 98.58 L462.55 98.60 L463.10 98.25 L463.65 97.85 L464.20 97.82 L464.75 97.66 L465.30 97.66 L465.85 96.91 L466.40 97.25 L466.95 96.90 L467.50 96.85 L468.05 97.23 L468.60 96.92 L469.15 96.90 L469.70 97.00 L470.25 97.07 L470.80 96.57 L471.35 96.70 L471.90 96.60 L472.45 96.61 L473.00 96.77 L473.55 96.56 L474.10 96.63 L474.65 96.58 L475.20 97.00 L475.75 96.78 L476.30 96.94 L476.85 97.00 L477.40 96.41 L477.95 96.76 L478.50 97.19 L479.05 97.18 L479.60 96.62 L480.15 96.69 L480.70 97.06 L481.25 96.81 L481.80 97.04 L482.35 97.00 L482.90 97.67 L483.45 97.90 L484.00 98.13 L484.55 97.59 L485.10 98.23 L485.65 98.31 L486.20 97.97 L486.75 98.77 L487.30 98.97 L487.85 98.53 L488.40 99.49 L488.95 99.28 L489.50 99.66 L490.05 100.40 L490.60 100.55 L491.15 100.24 L491.70 100.78 L492.25 101.19 L492.80 101.42 L493.35 101.69 L493.90 102.19 L494.45 102.94 L495.00 102.70 L495.55 103.57 L496.10 103.86 L496.65 103.87 L497.20 104.53 L497.75 105.17 L498.30 105.45 L498.85 105.42 L499.40 106.63 L499.95 106.83 L500.50 107.30 L501.05 106.83 L501.60 107.28 L502.15 107.38 L502.70 108.35 L503.25 108.20 L503.25 109.81 L502.70 109.89 L502.15 109.65 L501.60 109.81 L501.05 109.65 L500.50 109.57 L499.95 109.56 L499.40 109.79 L498.85 109.88 L498.30 109.82 L497.75 109.25 L497.20 109.26 L496.65 109.28 L496.10 109.58 L495.55 109.05 L495.00 109.02 L494.45 108.91 L493.90 109.05 L493.35 109.02 L492.80 109.12 L492.25 109.11 L491.70 109.13 L491.15 108.72 L490.60 109.11 L490.05 108.84 L489.50 108.64 L488.95 108.49 L488.40 108.73 L487.85 108.42 L487.30 108.31 L486.75 108.51 L486.20 107.94 L485.65 108.45 L485.10 108.06 L484.55 107.79 L484.00 107.97 L483.45 108.03 L482.90 107.47 L482.35 107.56 L481.80 107.34 L481.25 107.50 L480.70 107.32 L480.15 107.48 L479.60 107.26 L479.05 107.53 L478.50 107.14 L477.95 107.08 L477.40 106.94 L476.85 106.76 L476.30 106.74 L475.75 106.60 L475.20 106.60 L474.65 106.70 L474.10 106.33 L473.55 106.33 L473.00 106.69 L472.45 106.33 L471.90 106.08 L471.35 106.07 L470.80 106.25 L470.25 105.49 L469.70 105.84 L469.15 105.09 L468.60 105.39 L468.05 105.06 L467.50 105.07 L466.95 104.26 L466.40 104.30 L465.85 104.25 L465.30 103.52 L464.75 103.26 L464.20 103.40 L463.65 103.02 L463.10 102.97 L462.55 102.15 L462.00 101.94 L461.45 102.00 L460.90 101.72 L460.35 101.02 L459.80 100.47 Z" fill="#fff"/>
<path d="M452.10 96.68 L452.90 95.67 L453.70 94.41 L454.50 93.49 L455.30 93.35 L456.10 92.39 L456.90 91.85 L457.70 91.07 L458.50 90.73 L459.30 90.52 L460.10 90.27 L460.90 89.82 L461.70 89.74 L462.50 89.17 L463.30 89.05 L464.10 88.67 L464.90 88.58 L465.70 88.09 L466.50 87.80 L467.30 87.70 L468.10 87.38 L468.90 87.59 L469.70 87.84 L470.50 88.26 L471.30 88.49 L472.10 88.81 L472.90 89.19 L473.70 88.76 L474.50 88.52 L475.30 88.72 L476.10 88.01 L476.90 88.39 L477.70 88.40 L478.50 88.11 L479.30 88.65 L480.10 88.76 L480.90 88.82 L481.70 89.11 L482.50 89.37 L483.30 89.19 L484.10 89.64 L484.90 89.83 L485.70 90.23 L486.50 90.41 L487.30 90.62 L488.10 90.71 L488.90 91.39 L489.70 91.76 L490.50 92.25 L491.30 92.44 L492.10 92.79 L492.90 93.32 L493.70 93.96 L494.50 94.31 L495.30 95.25 L496.10 95.58 L496.90 96.08 L497.70 96.49 L498.50 96.94 L499.30 97.23 L500.10 97.36 L500.90 98.27 L501.70 98.69 L502.50 98.98 L503.30 99.44 L504.10 99.95 L504.90 100.04" fill="none" stroke="#1a22ff" stroke-width="1.3"/>
<path d="M436.60 120.49 L437.40 118.79 L438.20 117.27 L439.00 115.86 L439.80 114.54 L440.60 112.62 L441.40 111.43 L442.20 110.16 L443.00 108.45 L443.80 107.93 L444.60 107.87 L445.40 107.66 L446.20 107.04 L447.00 106.29 L447.80 105.64 L448.60 104.65 L449.40 104.03 L450.20 103.54 L451.00 103.34 L451.80 102.58 L452.60 102.24 L453.40 101.41 L454.20 102.39 L455.00 103.46 L455.80 104.29 L456.60 104.86 L457.40 105.22 L458.20 105.35 L459.00 105.85 L459.80 106.19 L460.60 106.31 L461.40 106.14 L462.20 106.71 L463.00 106.57 L463.80 107.32 L464.60 107.57 L465.40 107.30 L466.20 107.84 L467.00 108.30 L467.80 108.64 L468.60 108.58 L469.40 108.72 L470.20 108.94 L471.00 109.59 L471.80 109.26 L472.60 109.59 L473.40 109.44 L474.20 109.77 L475.00 110.14 L475.80 109.75 L476.60 110.24 L477.40 110.11 L478.20 110.40 L479.00 110.36 L479.80 110.13 L480.60 110.60 L481.40 110.41 L482.20 110.20 L483.00 110.25 L483.80 110.60 L484.60 110.66 L485.40 110.64 L486.20 110.62 L487.00 110.82 L487.80 110.88 L488.60 111.27 L489.40 110.84 L490.20 111.37 L491.00 111.49 L491.80 111.13 L492.60 111.68 L493.40 111.62 L494.20 111.80 L495.00 111.50 L495.80 111.62 L496.60 111.70 L497.40 112.13 L498.20 111.96 L499.00 111.89 L499.80 112.00 L500.60 111.98 L501.40 111.92 L502.20 112.02 L503.00 112.53 L503.80 112.27 L504.60 112.73" fill="none" stroke="#e8101a" stroke-width="1.7"/>
<line x1="438.80" y1="64.50" x2="446.60" y2="64.50" stroke="#1a3aa8" stroke-width="1.5"/>
<line x1="438.80" y1="71.40" x2="446.60" y2="71.40" stroke="#c81020" stroke-width="1.5"/>
<text x="450.1" y="66.4" font-size="4.8" fill="#333" textLength="12.6" lengthAdjust="spacingAndGlyphs">PKM2<tspan font-size="3.0" dy="-2.8">fl/fl</tspan></text>
<text x="450.1" y="73.3" font-size="4.8" fill="#333" textLength="33.7" lengthAdjust="spacingAndGlyphs">PKM2<tspan font-size="3.0" dy="-2.8">fl/fl</tspan><tspan font-size="4.8" dy="2.8">PF4Cre+</tspan></text>
<line x1="154.50" y1="204.20" x2="154.50" y2="276.70" stroke="#1a1a1a" stroke-width="1.15"/>
<line x1="151.30" y1="276.20" x2="154.50" y2="276.20" stroke="#1a1a1a" stroke-width="0.9"/>
<text x="148.60" y="278.40" font-size="6.2" text-anchor="end" fill="#222">0</text>
<line x1="151.30" y1="264.70" x2="154.50" y2="264.70" stroke="#1a1a1a" stroke-width="0.9"/>
<text x="148.60" y="266.90" font-size="6.2" text-anchor="end" fill="#222">5</text>
<line x1="151.30" y1="253.20" x2="154.50" y2="253.20" stroke="#1a1a1a" stroke-width="0.9"/>
<text x="148.60" y="255.40" font-size="6.2" text-anchor="end" fill="#222">10</text>
<line x1="151.30" y1="241.70" x2="154.50" y2="241.70" stroke="#1a1a1a" stroke-width="0.9"/>
<text x="148.60" y="243.90" font-size="6.2" text-anchor="end" fill="#222">15</text>
<line x1="151.30" y1="230.20" x2="154.50" y2="230.20" stroke="#1a1a1a" stroke-width="0.9"/>
<text x="148.60" y="232.40" font-size="6.2" text-anchor="end" fill="#222">20</text>
<line x1="151.30" y1="218.70" x2="154.50" y2="218.70" stroke="#1a1a1a" stroke-width="0.9"/>
<text x="148.60" y="220.90" font-size="6.2" text-anchor="end" fill="#222">25</text>
<line x1="151.30" y1="207.20" x2="154.50" y2="207.20" stroke="#1a1a1a" stroke-width="0.9"/>
<text x="148.60" y="209.40" font-size="6.2" text-anchor="end" fill="#222">30</text>
<line x1="151.50" y1="276.50" x2="202.90" y2="276.50" stroke="#1a1a1a" stroke-width="1.15"/>
<rect x="162.30" y="239.10" width="13.60" height="37.10" fill="#2f4b7c"/>
<rect x="184.50" y="226.80" width="13.70" height="49.40" fill="#a3002b"/>
<line x1="169.30" y1="232.20" x2="169.30" y2="241.00" stroke="#1a1a1a" stroke-width="0.9"/>
<line x1="167.00" y1="232.20" x2="171.60" y2="232.20" stroke="#1a1a1a" stroke-width="0.9"/>
<line x1="167.00" y1="241.00" x2="171.60" y2="241.00" stroke="#1a1a1a" stroke-width="0.9"/>
<circle cx="164.70" cy="230.10" r="1.35" fill="#1a1a1a"/>
<circle cx="173.70" cy="230.10" r="1.35" fill="#1a1a1a"/>
<circle cx="169.40" cy="232.20" r="1.35" fill="#1a1a1a"/>
<circle cx="167.20" cy="237.30" r="1.35" fill="#1a1a1a"/>
<circle cx="171.20" cy="237.30" r="1.35" fill="#1a1a1a"/>
<circle cx="169.40" cy="241.60" r="1.35" fill="#1a1a1a"/>
<circle cx="163.20" cy="243.80" r="1.35" fill="#1a1a1a"/>
<circle cx="174.80" cy="243.80" r="1.35" fill="#1a1a1a"/>
<circle cx="167.20" cy="246.50" r="1.35" fill="#1a1a1a"/>
<circle cx="171.20" cy="246.50" r="1.35" fill="#1a1a1a"/>
<line x1="191.50" y1="216.40" x2="191.50" y2="236.20" stroke="#1a1a1a" stroke-width="0.9"/>
<line x1="189.10" y1="216.40" x2="193.90" y2="216.40" stroke="#1a1a1a" stroke-width="0.9"/>
<line x1="189.10" y1="236.20" x2="193.90" y2="236.20" stroke="#1a1a1a" stroke-width="0.9"/>
<rect x="190.20" y="208.00" width="3.0" height="3.0" fill="#1a1a1a"/>
<rect x="187.90" y="212.30" width="3.0" height="3.0" fill="#1a1a1a"/>
<rect x="192.20" y="215.30" width="3.0" height="3.0" fill="#1a1a1a"/>
<rect x="188.10" y="214.50" width="3.0" height="3.0" fill="#1a1a1a"/>
<rect x="190.20" y="219.60" width="3.0" height="3.0" fill="#1a1a1a"/>
<rect x="190.20" y="223.90" width="3.0" height="3.0" fill="#1a1a1a"/>
<rect x="185.70" y="228.80" width="3.0" height="3.0" fill="#1a1a1a"/>
<rect x="191.60" y="228.60" width="3.0" height="3.0" fill="#1a1a1a"/>
<rect x="188.70" y="231.50" width="3.0" height="3.0" fill="#1a1a1a"/>
<rect x="191.60" y="233.60" width="3.0" height="3.0" fill="#1a1a1a"/>
<rect x="188.70" y="235.80" width="3.0" height="3.0" fill="#1a1a1a"/>
<rect x="191.60" y="236.90" width="3.0" height="3.0" fill="#1a1a1a"/>
<rect x="188.10" y="240.10" width="3.0" height="3.0" fill="#1a1a1a"/>
<line x1="167.20" y1="204.90" x2="191.00" y2="204.90" stroke="#707070" stroke-width="1.3"/>
<text x="179.40" y="201.70" font-size="6.0" text-anchor="middle" fill="#333" textLength="17.00" lengthAdjust="spacingAndGlyphs"><tspan font-style="italic">P</tspan> &lt; .05</text>
<text x="135.80" y="239.20" font-size="7.2" text-anchor="middle" textLength="71.00" lengthAdjust="spacingAndGlyphs" fill="#222" transform="rotate(-90 135.80 239.20)">Time to occlusion (min)</text>
<text x="171.30" y="283.50" font-size="7.0" text-anchor="end" fill="#222" transform="rotate(-45 171.30 283.50)" textLength="21.50" lengthAdjust="spacingAndGlyphs">PKM2<tspan font-size="4.2" dy="-3.0">fl/fl</tspan></text>
<text x="193.40" y="283.50" font-size="7.0" text-anchor="end" fill="#222" transform="rotate(-45 193.40 283.50)" textLength="21.50" lengthAdjust="spacingAndGlyphs">PKM2<tspan font-size="4.2" dy="-3.0">fl/fl</tspan></text>
<text x="198.21" y="288.31" font-size="7.0" text-anchor="end" fill="#222" transform="rotate(-45 198.21 288.31)" textLength="24.50" lengthAdjust="spacingAndGlyphs">PF4Cre+</text>
<line x1="243.50" y1="209.80" x2="243.50" y2="277.10" stroke="#1a1a1a" stroke-width="1.15"/>
<line x1="240.30" y1="276.60" x2="243.50" y2="276.60" stroke="#1a1a1a" stroke-width="0.9"/>
<text x="237.60" y="278.80" font-size="6.2" text-anchor="end" fill="#222">0</text>
<line x1="240.30" y1="263.70" x2="243.50" y2="263.70" stroke="#1a1a1a" stroke-width="0.9"/>
<text x="237.60" y="265.90" font-size="6.2" text-anchor="end" fill="#222">10</text>
<line x1="240.30" y1="250.80" x2="243.50" y2="250.80" stroke="#1a1a1a" stroke-width="0.9"/>
<text x="237.60" y="253.00" font-size="6.2" text-anchor="end" fill="#222">20</text>
<line x1="240.30" y1="237.90" x2="243.50" y2="237.90" stroke="#1a1a1a" stroke-width="0.9"/>
<text x="237.60" y="240.10" font-size="6.2" text-anchor="end" fill="#222">30</text>
<line x1="240.30" y1="225.00" x2="243.50" y2="225.00" stroke="#1a1a1a" stroke-width="0.9"/>
<text x="237.60" y="227.20" font-size="6.2" text-anchor="end" fill="#222">40</text>
<line x1="240.30" y1="212.10" x2="243.50" y2="212.10" stroke="#1a1a1a" stroke-width="0.9"/>
<text x="237.60" y="214.30" font-size="6.2" text-anchor="end" fill="#222">50</text>
<line x1="242.10" y1="276.50" x2="311.30" y2="276.50" stroke="#1a1a1a" stroke-width="1.15"/>
<line x1="243.50" y1="276.60" x2="243.50" y2="279.20" stroke="#1a1a1a" stroke-width="0.9"/>
<text x="243.50" y="287.80" font-size="6.2" text-anchor="middle" fill="#222">0</text>
<line x1="259.80" y1="276.60" x2="259.80" y2="279.20" stroke="#1a1a1a" stroke-width="0.9"/>
<text x="259.80" y="287.80" font-size="6.2" text-anchor="middle" fill="#222">2</text>
<line x1="276.10" y1="276.60" x2="276.10" y2="279.20" stroke="#1a1a1a" stroke-width="0.9"/>
<text x="276.10" y="287.80" font-size="6.2" text-anchor="middle" fill="#222">4</text>
<line x1="292.40" y1="276.60" x2="292.40" y2="279.20" stroke="#1a1a1a" stroke-width="0.9"/>
<text x="292.40" y="287.80" font-size="6.2" text-anchor="middle" fill="#222">6</text>
<line x1="308.70" y1="276.60" x2="308.70" y2="279.20" stroke="#1a1a1a" stroke-width="0.9"/>
<text x="308.70" y="287.80" font-size="6.2" text-anchor="middle" fill="#222">8</text>
<text x="277.70" y="299.00" font-size="7.2" text-anchor="middle" textLength="32.50" lengthAdjust="spacingAndGlyphs" fill="#222">Time (min)</text>
<text x="224.80" y="242.70" font-size="7.2" text-anchor="middle" textLength="93.40" lengthAdjust="spacingAndGlyphs" fill="#222" transform="rotate(-90 224.80 242.70)">Thrombus growth (fold change)</text>
<line x1="243.50" y1="276.60" x2="308.70" y2="224.23" stroke="#2c4a8a" stroke-width="1.3"/>
<line x1="243.50" y1="276.60" x2="308.70" y2="247.96" stroke="#b0103a" stroke-width="1.3"/>
<line x1="251.65" y1="270.15" x2="251.65" y2="273.38" stroke="#2c4a8a" stroke-width="0.8"/>
<line x1="250.65" y1="270.15" x2="252.65" y2="270.15" stroke="#2c4a8a" stroke-width="0.8"/>
<line x1="250.65" y1="273.38" x2="252.65" y2="273.38" stroke="#2c4a8a" stroke-width="0.8"/>
<circle cx="251.65" cy="271.83" r="1.2" fill="#2c4a8a"/>
<line x1="267.95" y1="250.54" x2="267.95" y2="260.35" stroke="#2c4a8a" stroke-width="0.8"/>
<line x1="266.95" y1="250.54" x2="268.95" y2="250.54" stroke="#2c4a8a" stroke-width="0.8"/>
<line x1="266.95" y1="260.35" x2="268.95" y2="260.35" stroke="#2c4a8a" stroke-width="0.8"/>
<circle cx="267.95" cy="256.73" r="1.2" fill="#2c4a8a"/>
<line x1="284.25" y1="232.48" x2="284.25" y2="246.29" stroke="#2c4a8a" stroke-width="0.8"/>
<line x1="283.25" y1="232.48" x2="285.25" y2="232.48" stroke="#2c4a8a" stroke-width="0.8"/>
<line x1="283.25" y1="246.29" x2="285.25" y2="246.29" stroke="#2c4a8a" stroke-width="0.8"/>
<circle cx="284.25" cy="239.84" r="1.2" fill="#2c4a8a"/>
<line x1="300.55" y1="225.00" x2="300.55" y2="236.35" stroke="#2c4a8a" stroke-width="0.8"/>
<line x1="299.55" y1="225.00" x2="301.55" y2="225.00" stroke="#2c4a8a" stroke-width="0.8"/>
<line x1="299.55" y1="236.35" x2="301.55" y2="236.35" stroke="#2c4a8a" stroke-width="0.8"/>
<circle cx="300.55" cy="230.03" r="1.2" fill="#2c4a8a"/>
<line x1="308.70" y1="217.91" x2="308.70" y2="231.84" stroke="#2c4a8a" stroke-width="0.8"/>
<line x1="307.70" y1="217.91" x2="309.70" y2="217.91" stroke="#2c4a8a" stroke-width="0.8"/>
<line x1="307.70" y1="231.84" x2="309.70" y2="231.84" stroke="#2c4a8a" stroke-width="0.8"/>
<circle cx="308.70" cy="224.61" r="1.2" fill="#2c4a8a"/>
<line x1="251.65" y1="272.73" x2="251.65" y2="275.31" stroke="#b0103a" stroke-width="0.8"/>
<line x1="250.65" y1="272.73" x2="252.65" y2="272.73" stroke="#b0103a" stroke-width="0.8"/>
<line x1="250.65" y1="275.31" x2="252.65" y2="275.31" stroke="#b0103a" stroke-width="0.8"/>
<circle cx="251.65" cy="274.02" r="1.2" fill="#b0103a"/>
<line x1="267.95" y1="269.50" x2="267.95" y2="272.73" stroke="#b0103a" stroke-width="0.8"/>
<line x1="266.95" y1="269.50" x2="268.95" y2="269.50" stroke="#b0103a" stroke-width="0.8"/>
<line x1="266.95" y1="272.73" x2="268.95" y2="272.73" stroke="#b0103a" stroke-width="0.8"/>
<circle cx="267.95" cy="271.18" r="1.2" fill="#b0103a"/>
<line x1="284.25" y1="260.86" x2="284.25" y2="266.02" stroke="#b0103a" stroke-width="0.8"/>
<line x1="283.25" y1="260.86" x2="285.25" y2="260.86" stroke="#b0103a" stroke-width="0.8"/>
<line x1="283.25" y1="266.02" x2="285.25" y2="266.02" stroke="#b0103a" stroke-width="0.8"/>
<circle cx="284.25" cy="263.70" r="1.2" fill="#b0103a"/>
<line x1="300.55" y1="247.19" x2="300.55" y2="257.77" stroke="#b0103a" stroke-width="0.8"/>
<line x1="299.55" y1="247.19" x2="301.55" y2="247.19" stroke="#b0103a" stroke-width="0.8"/>
<line x1="299.55" y1="257.77" x2="301.55" y2="257.77" stroke="#b0103a" stroke-width="0.8"/>
<circle cx="300.55" cy="252.35" r="1.2" fill="#b0103a"/>
<line x1="308.70" y1="236.87" x2="308.70" y2="251.32" stroke="#b0103a" stroke-width="0.8"/>
<line x1="307.70" y1="236.87" x2="309.70" y2="236.87" stroke="#b0103a" stroke-width="0.8"/>
<line x1="307.70" y1="251.32" x2="309.70" y2="251.32" stroke="#b0103a" stroke-width="0.8"/>
<circle cx="308.70" cy="243.71" r="1.2" fill="#b0103a"/>
<text x="284.25" y="229.00" font-size="5.0" text-anchor="middle">*</text>
<text x="300.55" y="220.40" font-size="5.0" text-anchor="middle">*</text>
<text x="308.70" y="213.50" font-size="5.0" text-anchor="middle">*</text>
<line x1="247.30" y1="197.60" x2="255.90" y2="197.60" stroke="#2c4a8a" stroke-width="1.0"/>
<circle cx="251.60" cy="197.60" r="1.1" fill="#2c4a8a"/>
<line x1="247.30" y1="204.00" x2="255.90" y2="204.00" stroke="#b0103a" stroke-width="1.0"/>
<circle cx="251.60" cy="204.00" r="1.1" fill="#b0103a"/>
<text x="258.5" y="199.6" font-size="4.6" fill="#333" textLength="14.0" lengthAdjust="spacingAndGlyphs">PKM2<tspan font-size="3.0" dy="-3.0">fl/fl</tspan></text>
<text x="258.5" y="206.0" font-size="4.6" fill="#333" textLength="35.1" lengthAdjust="spacingAndGlyphs">PKM2<tspan font-size="3.0" dy="-3.0">fl/fl</tspan><tspan font-size="4.6" dy="3.0">PF4Cre+</tspan></text>
<line x1="355.50" y1="201.20" x2="355.50" y2="276.80" stroke="#1a1a1a" stroke-width="1.15"/>
<line x1="352.30" y1="276.30" x2="355.50" y2="276.30" stroke="#1a1a1a" stroke-width="0.9"/>
<text x="349.60" y="278.50" font-size="6.2" text-anchor="end" fill="#222">0</text>
<line x1="352.30" y1="261.76" x2="355.50" y2="261.76" stroke="#1a1a1a" stroke-width="0.9"/>
<text x="349.60" y="263.96" font-size="6.2" text-anchor="end" fill="#222">100</text>
<line x1="352.30" y1="247.22" x2="355.50" y2="247.22" stroke="#1a1a1a" stroke-width="0.9"/>
<text x="349.60" y="249.42" font-size="6.2" text-anchor="end" fill="#222">200</text>
<line x1="352.30" y1="232.68" x2="355.50" y2="232.68" stroke="#1a1a1a" stroke-width="0.9"/>
<text x="349.60" y="234.88" font-size="6.2" text-anchor="end" fill="#222">300</text>
<line x1="352.30" y1="218.14" x2="355.50" y2="218.14" stroke="#1a1a1a" stroke-width="0.9"/>
<text x="349.60" y="220.34" font-size="6.2" text-anchor="end" fill="#222">400</text>
<line x1="352.30" y1="203.60" x2="355.50" y2="203.60" stroke="#1a1a1a" stroke-width="0.9"/>
<text x="349.60" y="205.80" font-size="6.2" text-anchor="end" fill="#222">500</text>
<line x1="352.20" y1="276.50" x2="410.80" y2="276.50" stroke="#1a1a1a" stroke-width="1.15"/>
<rect x="360.00" y="255.00" width="18.10" height="21.30" fill="#2f4b7c"/>
<rect x="382.50" y="254.90" width="18.20" height="21.40" fill="#a3002b"/>
<line x1="368.50" y1="252.00" x2="368.50" y2="258.00" stroke="#1a1a1a" stroke-width="0.9"/>
<line x1="364.35" y1="252.00" x2="372.65" y2="252.00" stroke="#1a1a1a" stroke-width="0.9"/>
<line x1="364.35" y1="258.00" x2="372.65" y2="258.00" stroke="#1a1a1a" stroke-width="0.9"/>
<line x1="391.80" y1="250.00" x2="391.80" y2="259.50" stroke="#1a1a1a" stroke-width="0.9"/>
<line x1="387.05" y1="250.00" x2="396.55" y2="250.00" stroke="#1a1a1a" stroke-width="0.9"/>
<line x1="387.05" y1="259.50" x2="396.55" y2="259.50" stroke="#1a1a1a" stroke-width="0.9"/>
<circle cx="368.80" cy="225.90" r="1.4" fill="#1a1a1a"/>
<circle cx="368.80" cy="241.30" r="1.4" fill="#1a1a1a"/>
<circle cx="366.30" cy="243.50" r="1.4" fill="#1a1a1a"/>
<circle cx="370.80" cy="246.60" r="1.4" fill="#1a1a1a"/>
<circle cx="361.70" cy="250.80" r="1.4" fill="#1a1a1a"/>
<circle cx="375.30" cy="250.00" r="1.4" fill="#1a1a1a"/>
<circle cx="366.30" cy="253.80" r="1.4" fill="#1a1a1a"/>
<circle cx="368.80" cy="254.10" r="1.4" fill="#1a1a1a"/>
<circle cx="370.80" cy="253.80" r="1.4" fill="#1a1a1a"/>
<circle cx="361.70" cy="259.10" r="1.4" fill="#1a1a1a"/>
<circle cx="375.30" cy="259.10" r="1.4" fill="#1a1a1a"/>
<circle cx="366.60" cy="262.60" r="1.4" fill="#1a1a1a"/>
<circle cx="370.80" cy="263.20" r="1.4" fill="#1a1a1a"/>
<circle cx="361.70" cy="266.60" r="1.4" fill="#1a1a1a"/>
<circle cx="370.80" cy="267.40" r="1.4" fill="#1a1a1a"/>
<circle cx="375.30" cy="266.20" r="1.4" fill="#1a1a1a"/>
<circle cx="366.60" cy="270.40" r="1.4" fill="#1a1a1a"/>
<rect x="390.60" y="215.90" width="2.8" height="2.8" fill="#1a1a1a"/>
<rect x="390.60" y="238.80" width="2.8" height="2.8" fill="#1a1a1a"/>
<rect x="392.40" y="243.30" width="2.8" height="2.8" fill="#1a1a1a"/>
<rect x="388.10" y="246.40" width="2.8" height="2.8" fill="#1a1a1a"/>
<rect x="390.60" y="253.20" width="2.8" height="2.8" fill="#1a1a1a"/>
<rect x="390.60" y="258.40" width="2.8" height="2.8" fill="#1a1a1a"/>
<rect x="394.60" y="261.80" width="2.8" height="2.8" fill="#1a1a1a"/>
<rect x="386.30" y="264.80" width="2.8" height="2.8" fill="#1a1a1a"/>
<rect x="390.60" y="265.20" width="2.8" height="2.8" fill="#1a1a1a"/>
<rect x="393.10" y="266.30" width="2.8" height="2.8" fill="#1a1a1a"/>
<rect x="388.10" y="269.80" width="2.8" height="2.8" fill="#1a1a1a"/>
<line x1="366.20" y1="202.60" x2="390.80" y2="202.60" stroke="#707070" stroke-width="1.3"/>
<text x="378.50" y="200.70" font-size="6.0" text-anchor="middle" fill="#333" textLength="16.80" lengthAdjust="spacingAndGlyphs"><tspan font-style="italic">P</tspan> = NS</text>
<text x="366.80" y="188.50" font-size="8.2" textLength="18.60" lengthAdjust="spacingAndGlyphs" fill="#222">Male</text>
<line x1="366.80" y1="189.70" x2="385.40" y2="189.70" stroke="#333" stroke-width="0.9"/>
<text x="332.80" y="237.80" font-size="7.2" text-anchor="middle" textLength="52.50" lengthAdjust="spacingAndGlyphs" fill="#222" transform="rotate(-90 332.80 237.80)">Bleeding time (s)</text>
<text x="371.45" y="285.40" font-size="7.0" text-anchor="end" fill="#222" transform="rotate(-45 371.45 285.40)" textLength="21.50" lengthAdjust="spacingAndGlyphs">PKM2<tspan font-size="4.2" dy="-3.0">fl/fl</tspan></text>
<text x="394.00" y="285.40" font-size="7.0" text-anchor="end" fill="#222" transform="rotate(-45 394.00 285.40)" textLength="21.50" lengthAdjust="spacingAndGlyphs">PKM2<tspan font-size="4.2" dy="-3.0">fl/fl</tspan></text>
<text x="398.81" y="290.21" font-size="7.0" text-anchor="end" fill="#222" transform="rotate(-45 398.81 290.21)" textLength="24.50" lengthAdjust="spacingAndGlyphs">PF4Cre+</text>
<line x1="454.50" y1="197.90" x2="454.50" y2="276.80" stroke="#1a1a1a" stroke-width="1.15"/>
<line x1="451.30" y1="276.30" x2="454.50" y2="276.30" stroke="#1a1a1a" stroke-width="0.9"/>
<text x="448.60" y="278.50" font-size="6.2" text-anchor="end" fill="#222">0</text>
<line x1="451.30" y1="261.12" x2="454.50" y2="261.12" stroke="#1a1a1a" stroke-width="0.9"/>
<text x="448.60" y="263.32" font-size="6.2" text-anchor="end" fill="#222">100</text>
<line x1="451.30" y1="245.94" x2="454.50" y2="245.94" stroke="#1a1a1a" stroke-width="0.9"/>
<text x="448.60" y="248.14" font-size="6.2" text-anchor="end" fill="#222">200</text>
<line x1="451.30" y1="230.76" x2="454.50" y2="230.76" stroke="#1a1a1a" stroke-width="0.9"/>
<text x="448.60" y="232.96" font-size="6.2" text-anchor="end" fill="#222">300</text>
<line x1="451.30" y1="215.58" x2="454.50" y2="215.58" stroke="#1a1a1a" stroke-width="0.9"/>
<text x="448.60" y="217.78" font-size="6.2" text-anchor="end" fill="#222">400</text>
<line x1="451.30" y1="200.40" x2="454.50" y2="200.40" stroke="#1a1a1a" stroke-width="0.9"/>
<text x="448.60" y="202.60" font-size="6.2" text-anchor="end" fill="#222">500</text>
<line x1="451.30" y1="276.50" x2="513.00" y2="276.50" stroke="#1a1a1a" stroke-width="1.15"/>
<rect x="459.10" y="257.60" width="17.80" height="18.70" fill="#2f4b7c"/>
<rect x="483.20" y="257.40" width="17.70" height="18.90" fill="#a3002b"/>
<line x1="468.10" y1="255.20" x2="468.10" y2="261.00" stroke="#1a1a1a" stroke-width="0.9"/>
<line x1="463.55" y1="255.20" x2="472.65" y2="255.20" stroke="#1a1a1a" stroke-width="0.9"/>
<line x1="463.55" y1="261.00" x2="472.65" y2="261.00" stroke="#1a1a1a" stroke-width="0.9"/>
<line x1="493.20" y1="256.60" x2="493.20" y2="262.00" stroke="#1a1a1a" stroke-width="0.9"/>
<line x1="488.60" y1="256.60" x2="497.80" y2="256.60" stroke="#1a1a1a" stroke-width="0.9"/>
<line x1="488.60" y1="262.00" x2="497.80" y2="262.00" stroke="#1a1a1a" stroke-width="0.9"/>
<circle cx="468.10" cy="247.20" r="1.4" fill="#1a1a1a"/>
<circle cx="463.60" cy="251.70" r="1.4" fill="#1a1a1a"/>
<circle cx="472.70" cy="251.70" r="1.4" fill="#1a1a1a"/>
<circle cx="468.10" cy="254.30" r="1.4" fill="#1a1a1a"/>
<circle cx="475.60" cy="257.60" r="1.4" fill="#1a1a1a"/>
<circle cx="460.60" cy="260.50" r="1.4" fill="#1a1a1a"/>
<circle cx="464.50" cy="261.10" r="1.4" fill="#1a1a1a"/>
<circle cx="468.10" cy="261.10" r="1.4" fill="#1a1a1a"/>
<circle cx="472.00" cy="260.80" r="1.4" fill="#1a1a1a"/>
<circle cx="468.10" cy="266.10" r="1.4" fill="#1a1a1a"/>
<rect x="490.80" y="245.80" width="2.8" height="2.8" fill="#1a1a1a"/>
<rect x="493.70" y="249.40" width="2.8" height="2.8" fill="#1a1a1a"/>
<rect x="488.80" y="251.60" width="2.8" height="2.8" fill="#1a1a1a"/>
<rect x="482.60" y="254.50" width="2.8" height="2.8" fill="#1a1a1a"/>
<rect x="499.30" y="255.00" width="2.8" height="2.8" fill="#1a1a1a"/>
<rect x="485.80" y="255.80" width="2.8" height="2.8" fill="#1a1a1a"/>
<rect x="488.70" y="255.60" width="2.8" height="2.8" fill="#1a1a1a"/>
<rect x="491.60" y="256.60" width="2.8" height="2.8" fill="#1a1a1a"/>
<rect x="494.50" y="256.00" width="2.8" height="2.8" fill="#1a1a1a"/>
<rect x="496.90" y="255.60" width="2.8" height="2.8" fill="#1a1a1a"/>
<rect x="486.50" y="261.80" width="2.8" height="2.8" fill="#1a1a1a"/>
<rect x="490.80" y="264.00" width="2.8" height="2.8" fill="#1a1a1a"/>
<rect x="495.40" y="262.80" width="2.8" height="2.8" fill="#1a1a1a"/>
<line x1="467.10" y1="202.60" x2="492.20" y2="202.60" stroke="#707070" stroke-width="1.3"/>
<text x="479.80" y="200.70" font-size="6.0" text-anchor="middle" fill="#333" textLength="16.80" lengthAdjust="spacingAndGlyphs"><tspan font-style="italic">P</tspan> = NS</text>
<text x="464.80" y="188.50" font-size="8.2" textLength="27.10" lengthAdjust="spacingAndGlyphs" fill="#222">Female</text>
<line x1="464.80" y1="189.70" x2="491.90" y2="189.70" stroke="#333" stroke-width="0.9"/>
<text x="432.30" y="236.80" font-size="7.2" text-anchor="middle" textLength="50.60" lengthAdjust="spacingAndGlyphs" fill="#222" transform="rotate(-90 432.30 236.80)">Bleeding time (s)</text>
<text x="471.80" y="285.05" font-size="7.0" text-anchor="end" fill="#222" transform="rotate(-45 471.80 285.05)" textLength="21.50" lengthAdjust="spacingAndGlyphs">PKM2<tspan font-size="4.2" dy="-3.0">fl/fl</tspan></text>
<text x="495.85" y="285.05" font-size="7.0" text-anchor="end" fill="#222" transform="rotate(-45 495.85 285.05)" textLength="21.50" lengthAdjust="spacingAndGlyphs">PKM2<tspan font-size="4.2" dy="-3.0">fl/fl</tspan></text>
<text x="500.66" y="289.86" font-size="7.0" text-anchor="end" fill="#222" transform="rotate(-45 500.66 289.86)" textLength="24.50" lengthAdjust="spacingAndGlyphs">PF4Cre+</text>
<line x1="156.50" y1="351.20" x2="156.50" y2="430.90" stroke="#1a1a1a" stroke-width="1.15"/>
<line x1="153.30" y1="430.40" x2="156.50" y2="430.40" stroke="#1a1a1a" stroke-width="0.9"/>
<text x="150.60" y="432.60" font-size="6.2" text-anchor="end" fill="#222">0</text>
<line x1="153.30" y1="415.18" x2="156.50" y2="415.18" stroke="#1a1a1a" stroke-width="0.9"/>
<text x="150.60" y="417.38" font-size="6.2" text-anchor="end" fill="#222">10</text>
<line x1="153.30" y1="399.96" x2="156.50" y2="399.96" stroke="#1a1a1a" stroke-width="0.9"/>
<text x="150.60" y="402.16" font-size="6.2" text-anchor="end" fill="#222">20</text>
<line x1="153.30" y1="384.74" x2="156.50" y2="384.74" stroke="#1a1a1a" stroke-width="0.9"/>
<text x="150.60" y="386.94" font-size="6.2" text-anchor="end" fill="#222">30</text>
<line x1="153.30" y1="369.52" x2="156.50" y2="369.52" stroke="#1a1a1a" stroke-width="0.9"/>
<text x="150.60" y="371.72" font-size="6.2" text-anchor="end" fill="#222">40</text>
<line x1="153.30" y1="354.30" x2="156.50" y2="354.30" stroke="#1a1a1a" stroke-width="0.9"/>
<text x="150.60" y="356.50" font-size="6.2" text-anchor="end" fill="#222">50</text>
<line x1="154.00" y1="430.50" x2="243.00" y2="430.50" stroke="#1a1a1a" stroke-width="1.15"/>
<rect x="165.60" y="404.00" width="16.00" height="26.40" fill="#2f4b7c"/>
<rect x="191.40" y="385.90" width="16.10" height="44.50" fill="#a3002b"/>
<rect x="217.50" y="380.20" width="15.60" height="50.20" fill="#6ca743"/>
<line x1="199.40" y1="379.40" x2="199.40" y2="386.50" stroke="#1a1a1a" stroke-width="1.0"/>
<line x1="195.35" y1="379.40" x2="203.45" y2="379.40" stroke="#1a1a1a" stroke-width="1.0"/>
<line x1="225.50" y1="375.50" x2="225.50" y2="380.50" stroke="#1a1a1a" stroke-width="1.0"/>
<line x1="221.45" y1="375.50" x2="229.55" y2="375.50" stroke="#1a1a1a" stroke-width="1.0"/>
<circle cx="167.00" cy="399.70" r="1.45" fill="#1a1a1a"/>
<circle cx="170.30" cy="400.70" r="1.45" fill="#1a1a1a"/>
<circle cx="172.70" cy="403.30" r="1.45" fill="#1a1a1a"/>
<circle cx="175.50" cy="400.10" r="1.45" fill="#1a1a1a"/>
<circle cx="179.80" cy="398.30" r="1.45" fill="#1a1a1a"/>
<circle cx="177.60" cy="401.80" r="1.45" fill="#1a1a1a"/>
<circle cx="168.40" cy="407.80" r="1.45" fill="#1a1a1a"/>
<circle cx="173.40" cy="411.10" r="1.45" fill="#1a1a1a"/>
<circle cx="178.80" cy="409.20" r="1.45" fill="#1a1a1a"/>
<circle cx="174.80" cy="405.40" r="1.45" fill="#1a1a1a"/>
<rect x="191.20" y="368.00" width="2.8" height="2.8" fill="#1a1a1a"/>
<rect x="195.20" y="368.00" width="2.8" height="2.8" fill="#1a1a1a"/>
<rect x="199.30" y="368.00" width="2.8" height="2.8" fill="#1a1a1a"/>
<rect x="203.60" y="368.00" width="2.8" height="2.8" fill="#1a1a1a"/>
<rect x="197.90" y="374.10" width="2.8" height="2.8" fill="#1a1a1a"/>
<rect x="197.90" y="395.00" width="2.8" height="2.8" fill="#1a1a1a"/>
<rect x="194.70" y="399.70" width="2.8" height="2.8" fill="#1a1a1a"/>
<rect x="200.70" y="401.90" width="2.8" height="2.8" fill="#1a1a1a"/>
<rect x="197.90" y="408.70" width="2.8" height="2.8" fill="#1a1a1a"/>
<circle cx="220.30" cy="369.40" r="1.45" fill="#1a1a1a"/>
<circle cx="223.50" cy="369.40" r="1.45" fill="#1a1a1a"/>
<circle cx="226.70" cy="369.40" r="1.45" fill="#1a1a1a"/>
<circle cx="230.00" cy="369.40" r="1.45" fill="#1a1a1a"/>
<circle cx="225.30" cy="388.70" r="1.45" fill="#1a1a1a"/>
<circle cx="225.30" cy="393.60" r="1.45" fill="#1a1a1a"/>
<circle cx="227.70" cy="395.40" r="1.45" fill="#1a1a1a"/>
<circle cx="222.50" cy="399.70" r="1.45" fill="#1a1a1a"/>
<line x1="171.50" y1="351.50" x2="226.50" y2="351.50" stroke="#707070" stroke-width="1.3"/>
<text x="199.20" y="348.30" font-size="6.0" text-anchor="middle" fill="#333" textLength="16.90" lengthAdjust="spacingAndGlyphs"><tspan font-style="italic">P</tspan> &lt; .05</text>
<line x1="171.70" y1="364.60" x2="199.30" y2="364.60" stroke="#707070" stroke-width="1.3"/>
<text x="185.60" y="360.80" font-size="6.0" text-anchor="middle" fill="#333" textLength="16.40" lengthAdjust="spacingAndGlyphs"><tspan font-style="italic">P</tspan> &lt; .05</text>
<text x="173.40" y="440.00" font-size="6.2" text-anchor="middle" fill="#222">0</text>
<text x="199.30" y="440.00" font-size="6.2" text-anchor="middle" fill="#222">25</text>
<text x="225.30" y="440.00" font-size="6.2" text-anchor="middle" fill="#222">50</text>
<line x1="167.90" y1="443.30" x2="233.10" y2="443.30" stroke="#222" stroke-width="1.1"/>
<text x="200.70" y="451.60" font-size="7.2" text-anchor="middle" textLength="46.60" lengthAdjust="spacingAndGlyphs" fill="#222">ML265 (mg/kg)</text>
<text x="137.50" y="390.90" font-size="7.2" text-anchor="middle" textLength="68.40" lengthAdjust="spacingAndGlyphs" fill="#222" transform="rotate(-90 137.50 390.90)">Time to occlusion (min)</text>
<line x1="283.50" y1="355.00" x2="283.50" y2="431.70" stroke="#1a1a1a" stroke-width="1.15"/>
<line x1="280.30" y1="431.20" x2="283.50" y2="431.20" stroke="#1a1a1a" stroke-width="0.9"/>
<text x="277.60" y="433.40" font-size="6.2" text-anchor="end" fill="#222">0</text>
<line x1="280.30" y1="416.20" x2="283.50" y2="416.20" stroke="#1a1a1a" stroke-width="0.9"/>
<text x="277.60" y="418.40" font-size="6.2" text-anchor="end" fill="#222">10</text>
<line x1="280.30" y1="401.20" x2="283.50" y2="401.20" stroke="#1a1a1a" stroke-width="0.9"/>
<text x="277.60" y="403.40" font-size="6.2" text-anchor="end" fill="#222">20</text>
<line x1="280.30" y1="386.20" x2="283.50" y2="386.20" stroke="#1a1a1a" stroke-width="0.9"/>
<text x="277.60" y="388.40" font-size="6.2" text-anchor="end" fill="#222">30</text>
<line x1="280.30" y1="371.20" x2="283.50" y2="371.20" stroke="#1a1a1a" stroke-width="0.9"/>
<text x="277.60" y="373.40" font-size="6.2" text-anchor="end" fill="#222">40</text>
<line x1="280.30" y1="356.20" x2="283.50" y2="356.20" stroke="#1a1a1a" stroke-width="0.9"/>
<text x="277.60" y="358.40" font-size="6.2" text-anchor="end" fill="#222">50</text>
<line x1="282.30" y1="431.50" x2="365.40" y2="431.50" stroke="#1a1a1a" stroke-width="1.15"/>
<line x1="283.80" y1="431.20" x2="283.80" y2="433.80" stroke="#1a1a1a" stroke-width="0.9"/>
<text x="283.80" y="442.40" font-size="6.2" text-anchor="middle" fill="#222">0</text>
<line x1="303.52" y1="431.20" x2="303.52" y2="433.80" stroke="#1a1a1a" stroke-width="0.9"/>
<text x="303.52" y="442.40" font-size="6.2" text-anchor="middle" fill="#222">2</text>
<line x1="323.24" y1="431.20" x2="323.24" y2="433.80" stroke="#1a1a1a" stroke-width="0.9"/>
<text x="323.24" y="442.40" font-size="6.2" text-anchor="middle" fill="#222">4</text>
<line x1="342.96" y1="431.20" x2="342.96" y2="433.80" stroke="#1a1a1a" stroke-width="0.9"/>
<text x="342.96" y="442.40" font-size="6.2" text-anchor="middle" fill="#222">6</text>
<line x1="362.68" y1="431.20" x2="362.68" y2="433.80" stroke="#1a1a1a" stroke-width="0.9"/>
<text x="362.68" y="442.40" font-size="6.2" text-anchor="middle" fill="#222">8</text>
<text x="324.80" y="454.20" font-size="7.2" text-anchor="middle" textLength="32.00" lengthAdjust="spacingAndGlyphs" fill="#222">Time (min)</text>
<text x="265.80" y="389.90" font-size="7.2" text-anchor="middle" textLength="90.20" lengthAdjust="spacingAndGlyphs" fill="#222" transform="rotate(-90 265.80 389.90)">Thrombus growth (fold change)</text>
<line x1="283.80" y1="431.20" x2="362.68" y2="374.20" stroke="#2c4a8a" stroke-width="1.3"/>
<line x1="283.80" y1="431.20" x2="362.68" y2="413.20" stroke="#b0103a" stroke-width="1.3"/>
<line x1="293.66" y1="422.95" x2="293.66" y2="425.95" stroke="#2c4a8a" stroke-width="0.8"/>
<line x1="292.66" y1="422.95" x2="294.66" y2="422.95" stroke="#2c4a8a" stroke-width="0.8"/>
<line x1="292.66" y1="425.95" x2="294.66" y2="425.95" stroke="#2c4a8a" stroke-width="0.8"/>
<circle cx="293.66" cy="424.45" r="1.2" fill="#2c4a8a"/>
<line x1="313.38" y1="407.20" x2="313.38" y2="414.70" stroke="#2c4a8a" stroke-width="0.8"/>
<line x1="312.38" y1="407.20" x2="314.38" y2="407.20" stroke="#2c4a8a" stroke-width="0.8"/>
<line x1="312.38" y1="414.70" x2="314.38" y2="414.70" stroke="#2c4a8a" stroke-width="0.8"/>
<circle cx="313.38" cy="410.95" r="1.2" fill="#2c4a8a"/>
<line x1="333.10" y1="384.70" x2="333.10" y2="400.45" stroke="#2c4a8a" stroke-width="0.8"/>
<line x1="332.10" y1="384.70" x2="334.10" y2="384.70" stroke="#2c4a8a" stroke-width="0.8"/>
<line x1="332.10" y1="400.45" x2="334.10" y2="400.45" stroke="#2c4a8a" stroke-width="0.8"/>
<circle cx="333.10" cy="392.95" r="1.2" fill="#2c4a8a"/>
<line x1="362.68" y1="365.50" x2="362.68" y2="382.00" stroke="#2c4a8a" stroke-width="0.8"/>
<line x1="361.68" y1="365.50" x2="363.68" y2="365.50" stroke="#2c4a8a" stroke-width="0.8"/>
<line x1="361.68" y1="382.00" x2="363.68" y2="382.00" stroke="#2c4a8a" stroke-width="0.8"/>
<circle cx="362.68" cy="373.45" r="1.2" fill="#2c4a8a"/>
<line x1="293.66" y1="428.95" x2="293.66" y2="430.45" stroke="#b0103a" stroke-width="0.8"/>
<line x1="292.66" y1="428.95" x2="294.66" y2="428.95" stroke="#b0103a" stroke-width="0.8"/>
<line x1="292.66" y1="430.45" x2="294.66" y2="430.45" stroke="#b0103a" stroke-width="0.8"/>
<circle cx="293.66" cy="429.70" r="1.2" fill="#b0103a"/>
<line x1="313.38" y1="424.00" x2="313.38" y2="427.90" stroke="#b0103a" stroke-width="0.8"/>
<line x1="312.38" y1="424.00" x2="314.38" y2="424.00" stroke="#b0103a" stroke-width="0.8"/>
<line x1="312.38" y1="427.90" x2="314.38" y2="427.90" stroke="#b0103a" stroke-width="0.8"/>
<circle cx="313.38" cy="425.95" r="1.2" fill="#b0103a"/>
<line x1="333.10" y1="417.70" x2="333.10" y2="422.95" stroke="#b0103a" stroke-width="0.8"/>
<line x1="332.10" y1="417.70" x2="334.10" y2="417.70" stroke="#b0103a" stroke-width="0.8"/>
<line x1="332.10" y1="422.95" x2="334.10" y2="422.95" stroke="#b0103a" stroke-width="0.8"/>
<circle cx="333.10" cy="419.95" r="1.2" fill="#b0103a"/>
<line x1="362.68" y1="405.70" x2="362.68" y2="416.95" stroke="#b0103a" stroke-width="0.8"/>
<line x1="361.68" y1="405.70" x2="363.68" y2="405.70" stroke="#b0103a" stroke-width="0.8"/>
<line x1="361.68" y1="416.95" x2="363.68" y2="416.95" stroke="#b0103a" stroke-width="0.8"/>
<circle cx="362.68" cy="411.70" r="1.2" fill="#b0103a"/>
<text x="333.10" y="380.40" font-size="5.0" text-anchor="middle">*</text>
<text x="362.68" y="362.40" font-size="5.0" text-anchor="middle">*</text>
<line x1="291.00" y1="359.50" x2="298.60" y2="359.50" stroke="#2c4a8a" stroke-width="1.0"/>
<circle cx="294.80" cy="359.50" r="1.0" fill="#2c4a8a"/>
<line x1="291.00" y1="366.30" x2="298.60" y2="366.30" stroke="#b0103a" stroke-width="1.0"/>
<circle cx="294.80" cy="366.30" r="1.0" fill="#b0103a"/>
<text x="301.00" y="361.10" font-size="4.3" textLength="12.60" lengthAdjust="spacingAndGlyphs" fill="#444">Vehicle</text>
<text x="301.00" y="367.90" font-size="4.3" textLength="10.60" lengthAdjust="spacingAndGlyphs" fill="#444">ML265</text>
<line x1="409.50" y1="341.20" x2="409.50" y2="430.80" stroke="#1a1a1a" stroke-width="1.15"/>
<line x1="406.30" y1="430.30" x2="409.50" y2="430.30" stroke="#1a1a1a" stroke-width="0.9"/>
<text x="403.60" y="432.50" font-size="6.2" text-anchor="end" fill="#222">0</text>
<line x1="406.30" y1="413.10" x2="409.50" y2="413.10" stroke="#1a1a1a" stroke-width="0.9"/>
<text x="403.60" y="415.30" font-size="6.2" text-anchor="end" fill="#222">50</text>
<line x1="406.30" y1="395.90" x2="409.50" y2="395.90" stroke="#1a1a1a" stroke-width="0.9"/>
<text x="403.60" y="398.10" font-size="6.2" text-anchor="end" fill="#222">100</text>
<line x1="406.30" y1="378.70" x2="409.50" y2="378.70" stroke="#1a1a1a" stroke-width="0.9"/>
<text x="403.60" y="380.90" font-size="6.2" text-anchor="end" fill="#222">150</text>
<line x1="406.30" y1="361.50" x2="409.50" y2="361.50" stroke="#1a1a1a" stroke-width="0.9"/>
<text x="403.60" y="363.70" font-size="6.2" text-anchor="end" fill="#222">200</text>
<line x1="406.30" y1="344.30" x2="409.50" y2="344.30" stroke="#1a1a1a" stroke-width="0.9"/>
<text x="403.60" y="346.50" font-size="6.2" text-anchor="end" fill="#222">250</text>
<line x1="406.70" y1="430.50" x2="468.00" y2="430.50" stroke="#1a1a1a" stroke-width="1.15"/>
<rect x="418.90" y="381.90" width="15.10" height="48.40" fill="#2f4b7c"/>
<rect x="443.40" y="380.50" width="15.10" height="49.80" fill="#a3002b"/>
<line x1="426.20" y1="375.10" x2="426.20" y2="387.80" stroke="#1a1a1a" stroke-width="0.9"/>
<line x1="424.00" y1="375.10" x2="428.40" y2="375.10" stroke="#1a1a1a" stroke-width="0.9"/>
<line x1="424.00" y1="387.80" x2="428.40" y2="387.80" stroke="#1a1a1a" stroke-width="0.9"/>
<line x1="451.00" y1="368.60" x2="451.00" y2="390.50" stroke="#1a1a1a" stroke-width="0.9"/>
<line x1="447.50" y1="368.60" x2="454.50" y2="368.60" stroke="#1a1a1a" stroke-width="0.9"/>
<line x1="447.50" y1="390.50" x2="454.50" y2="390.50" stroke="#1a1a1a" stroke-width="0.9"/>
<circle cx="420.00" cy="374.00" r="1.55" fill="#1a1a1a"/>
<circle cx="423.70" cy="374.60" r="1.55" fill="#1a1a1a"/>
<circle cx="428.10" cy="375.70" r="1.55" fill="#1a1a1a"/>
<circle cx="432.60" cy="374.00" r="1.55" fill="#1a1a1a"/>
<circle cx="419.60" cy="379.00" r="1.55" fill="#1a1a1a"/>
<circle cx="424.30" cy="378.30" r="1.55" fill="#1a1a1a"/>
<circle cx="432.60" cy="382.40" r="1.55" fill="#1a1a1a"/>
<circle cx="424.30" cy="384.40" r="1.55" fill="#1a1a1a"/>
<circle cx="427.50" cy="384.40" r="1.55" fill="#1a1a1a"/>
<circle cx="428.60" cy="388.90" r="1.55" fill="#1a1a1a"/>
<circle cx="423.50" cy="393.00" r="1.55" fill="#1a1a1a"/>
<rect x="449.50" y="356.60" width="3.0" height="3.0" fill="#1a1a1a"/>
<rect x="449.50" y="368.00" width="3.0" height="3.0" fill="#1a1a1a"/>
<rect x="443.30" y="372.30" width="3.0" height="3.0" fill="#1a1a1a"/>
<rect x="455.70" y="371.40" width="3.0" height="3.0" fill="#1a1a1a"/>
<rect x="447.60" y="375.00" width="3.0" height="3.0" fill="#1a1a1a"/>
<rect x="451.40" y="374.20" width="3.0" height="3.0" fill="#1a1a1a"/>
<rect x="447.30" y="384.40" width="3.0" height="3.0" fill="#1a1a1a"/>
<rect x="452.70" y="384.40" width="3.0" height="3.0" fill="#1a1a1a"/>
<rect x="444.10" y="389.00" width="3.0" height="3.0" fill="#1a1a1a"/>
<rect x="449.50" y="392.30" width="3.0" height="3.0" fill="#1a1a1a"/>
<rect x="454.70" y="392.30" width="3.0" height="3.0" fill="#1a1a1a"/>
<line x1="428.70" y1="348.60" x2="446.60" y2="348.60" stroke="#707070" stroke-width="1.3"/>
<text x="437.60" y="344.80" font-size="6.0" text-anchor="middle" fill="#333" textLength="15.80" lengthAdjust="spacingAndGlyphs"><tspan font-style="italic">P</tspan> = NS</text>
<text x="426.20" y="439.60" font-size="6.2" text-anchor="middle" fill="#222">0</text>
<text x="451.40" y="439.60" font-size="6.2" text-anchor="middle" fill="#222">50</text>
<line x1="416.80" y1="444.00" x2="459.90" y2="444.00" stroke="#222" stroke-width="1.1"/>
<text x="439.00" y="452.30" font-size="7.2" text-anchor="middle" textLength="46.30" lengthAdjust="spacingAndGlyphs" fill="#222">ML265 (mg/kg)</text>
<text x="387.20" y="383.60" font-size="7.2" text-anchor="middle" textLength="56.20" lengthAdjust="spacingAndGlyphs" fill="#222" transform="rotate(-90 387.20 383.60)">Bleeding time (s)</text></svg>
</body></html>
